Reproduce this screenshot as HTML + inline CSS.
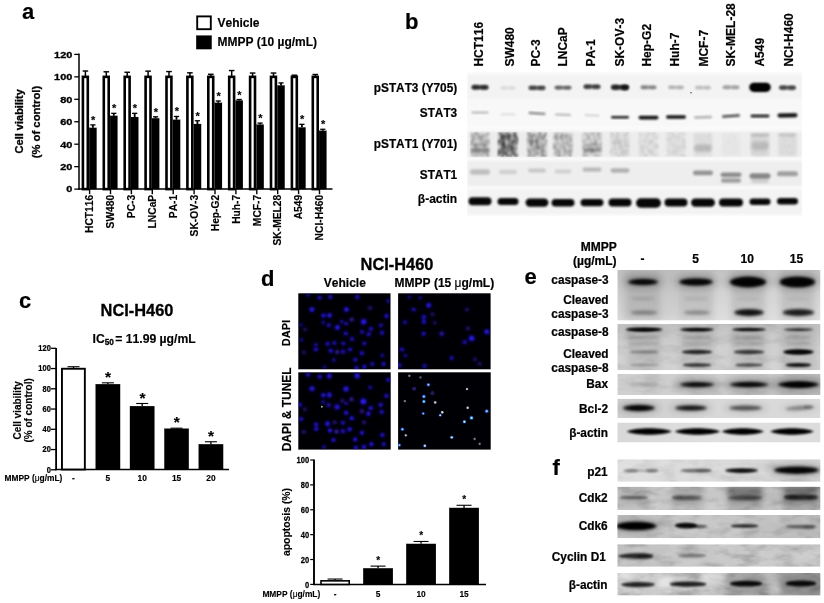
<!DOCTYPE html>
<html><head><meta charset="utf-8"><title>Figure</title>
<style>
html,body{margin:0;padding:0;background:#fff;}
svg{display:block;}
text{font-family:"Liberation Sans",sans-serif;font-weight:bold;fill:#000;font-kerning:none;}
</style></head><body>
<svg width="824" height="603" viewBox="0 0 824 603">
<defs>
<filter id="tb" x="-5%" y="-5%" width="110%" height="110%"><feGaussianBlur stdDeviation="0.35"/></filter>
<filter id="b05" x="-20%" y="-50%" width="140%" height="200%"><feGaussianBlur stdDeviation="0.5"/></filter>
<filter id="b08" x="-20%" y="-50%" width="140%" height="200%"><feGaussianBlur stdDeviation="0.8"/></filter>
<filter id="b1" x="-20%" y="-50%" width="140%" height="200%"><feGaussianBlur stdDeviation="1"/></filter>
<filter id="b13" x="-20%" y="-60%" width="140%" height="220%"><feGaussianBlur stdDeviation="1.3"/></filter>
<filter id="b15" x="-20%" y="-60%" width="140%" height="220%"><feGaussianBlur stdDeviation="1.5"/></filter>
<filter id="b2" x="-30%" y="-80%" width="160%" height="260%"><feGaussianBlur stdDeviation="2"/></filter>
<filter id="b3" x="-30%" y="-100%" width="160%" height="300%"><feGaussianBlur stdDeviation="3"/></filter>
<filter id="b4" x="-40%" y="-100%" width="180%" height="300%"><feGaussianBlur stdDeviation="4"/></filter>
<clipPath id="cb1"><rect x="467.5" y="70" width="334.5" height="148"/></clipPath>
<filter id="noise" x="0" y="0" width="100%" height="100%">
<feTurbulence type="fractalNoise" baseFrequency="0.36 0.2" numOctaves="2" seed="7" result="n"/>
<feColorMatrix in="n" type="matrix" values="0 0 0 0 0  0 0 0 0 0  0 0 0 0 0  2.4 0 0 0 -0.85" result="a"/>
<feComposite in="a" in2="SourceGraphic" operator="in"/>
<feGaussianBlur stdDeviation="0.85"/>
</filter>
<filter id="cb" x="-50%" y="-50%" width="200%" height="200%"><feGaussianBlur stdDeviation="0.9"/></filter>
<filter id="cb2" x="-50%" y="-50%" width="200%" height="200%"><feGaussianBlur stdDeviation="0.7"/></filter>
<clipPath id="ci1"><rect x="298.3" y="293.3" width="92.2" height="76"/></clipPath>
<clipPath id="ci2"><rect x="398.1" y="293.3" width="92.5" height="76"/></clipPath>
<clipPath id="ci3"><rect x="298.3" y="372.3" width="92.4" height="77.3"/></clipPath>
<clipPath id="ci4"><rect x="398.1" y="372.3" width="92.6" height="77.3"/></clipPath>
<filter id="mottD" x="0" y="0" width="100%" height="100%">
<feTurbulence type="fractalNoise" baseFrequency="0.05 0.11" numOctaves="3" seed="11"/>
<feColorMatrix type="matrix" values="0 0 0 0 0  0 0 0 0 0  0 0 0 0 0  2.2 0 0 0 -0.95"/>
<feComposite in2="SourceGraphic" operator="in"/></filter>
<filter id="mottL" x="0" y="0" width="100%" height="100%">
<feTurbulence type="fractalNoise" baseFrequency="0.06 0.1" numOctaves="3" seed="29"/>
<feColorMatrix type="matrix" values="0 0 0 0 1  0 0 0 0 1  0 0 0 0 1  2.2 0 0 0 -0.95"/>
<feComposite in2="SourceGraphic" operator="in"/></filter>
<linearGradient id="ge1" x1="0" y1="0" x2="0" y2="1"><stop offset="0" stop-color="#c2c2c2"/><stop offset="0.5" stop-color="#d4d4d4"/><stop offset="1" stop-color="#dedede"/></linearGradient>
<clipPath id="ce1"><rect x="617.3" y="270" width="203.20000000000005" height="50.5"/></clipPath>
<linearGradient id="ge2" x1="0" y1="0" x2="0" y2="1"><stop offset="0" stop-color="#c0c0c0"/><stop offset="0.5" stop-color="#cfcfcf"/><stop offset="1" stop-color="#d2d2d2"/></linearGradient>
<clipPath id="ce2"><rect x="617.3" y="324" width="203.20000000000005" height="46.3"/></clipPath>
<linearGradient id="ge3" x1="0" y1="0" x2="1" y2="0"><stop offset="0" stop-color="#d0d0d0"/><stop offset="0.5" stop-color="#cccccc"/><stop offset="1" stop-color="#c4c4c4"/></linearGradient>
<clipPath id="ce3"><rect x="617.3" y="374" width="203.20000000000005" height="21"/></clipPath>
<linearGradient id="ge4" x1="0" y1="0" x2="1" y2="0"><stop offset="0" stop-color="#cecece"/><stop offset="0.5" stop-color="#d8d8d8"/><stop offset="1" stop-color="#dadada"/></linearGradient>
<clipPath id="ce4"><rect x="617.3" y="398.7" width="203.20000000000005" height="19.3"/></clipPath>
<linearGradient id="ge5" x1="0" y1="0" x2="1" y2="0"><stop offset="0" stop-color="#d8d8d8"/><stop offset="0.5" stop-color="#e0e0e0"/><stop offset="1" stop-color="#dcdcdc"/></linearGradient>
<clipPath id="ce5"><rect x="617.3" y="422.5" width="203.20000000000005" height="20.1"/></clipPath>
<linearGradient id="gf1" x1="0" y1="0" x2="1" y2="0"><stop offset="0" stop-color="#e0e0e0"/><stop offset="0.5" stop-color="#dadada"/><stop offset="1" stop-color="#d2d2d2"/></linearGradient>
<clipPath id="cf1"><rect x="617.3" y="459.3" width="203.20000000000005" height="22.5"/></clipPath>
<linearGradient id="gf2" x1="0" y1="0" x2="1" y2="0"><stop offset="0" stop-color="#c8c8c8"/><stop offset="0.5" stop-color="#c4c4c4"/><stop offset="1" stop-color="#b4b4b4"/></linearGradient>
<clipPath id="cf2"><rect x="617.3" y="486.7" width="203.20000000000005" height="23.3"/></clipPath>
<linearGradient id="gf3" x1="0" y1="0" x2="1" y2="0"><stop offset="0" stop-color="#c2c2c2"/><stop offset="0.5" stop-color="#c8c8c8"/><stop offset="1" stop-color="#b8b8b8"/></linearGradient>
<clipPath id="cf3"><rect x="617.3" y="515" width="203.20000000000005" height="23.2"/></clipPath>
<linearGradient id="gf4" x1="0" y1="0" x2="1" y2="0"><stop offset="0" stop-color="#c0c0c0"/><stop offset="0.5" stop-color="#c8c8c8"/><stop offset="1" stop-color="#cccccc"/></linearGradient>
<clipPath id="cf4"><rect x="617.3" y="544.2" width="203.20000000000005" height="22.6"/></clipPath>
<linearGradient id="gf5" x1="0" y1="0" x2="1" y2="0"><stop offset="0" stop-color="#cdcdcd"/><stop offset="0.5" stop-color="#c2c2c2"/><stop offset="1" stop-color="#a4a4a4"/></linearGradient>
<clipPath id="cf5"><rect x="617.3" y="573" width="203.20000000000005" height="22.6"/></clipPath>
</defs>
<rect x="0" y="0" width="824" height="603" fill="#fff"/>
<g id="panel-a" filter="url(#tb)" stroke="#000" stroke-width="0.15">
<text x="22" y="19" font-size="22" text-anchor="start" >a</text>
<rect x="197.2" y="16.4" width="13.6" height="12.8" fill="#fff" stroke="#000" stroke-width="1.9"/>
<rect x="196.2" y="35.5" width="15.5" height="13.7" fill="#000"/>
<text x="217.5" y="27" font-size="12" text-anchor="start" >Vehicle</text>
<text x="217.5" y="46.3" font-size="12" text-anchor="start" >MMPP (10 µg/mL)</text>
<line x1="79" y1="53.6" x2="79" y2="189.75" stroke="#000" stroke-width="1.5" />
<line x1="78.25" y1="189" x2="332.5" y2="189" stroke="#000" stroke-width="1.5" />
<line x1="74.3" y1="189.1" x2="79" y2="189.1" stroke="#000" stroke-width="1.3" />
<text transform="translate(72.4,192.4) scale(1.22,1)" font-size="9" text-anchor="end" stroke="#000" stroke-width="0.3">0</text>
<line x1="74.3" y1="166.65" x2="79" y2="166.65" stroke="#000" stroke-width="1.3" />
<text transform="translate(72.4,169.95) scale(1.22,1)" font-size="9" text-anchor="end" stroke="#000" stroke-width="0.3">20</text>
<line x1="74.3" y1="144.2" x2="79" y2="144.2" stroke="#000" stroke-width="1.3" />
<text transform="translate(72.4,147.5) scale(1.22,1)" font-size="9" text-anchor="end" stroke="#000" stroke-width="0.3">40</text>
<line x1="74.3" y1="121.75" x2="79" y2="121.75" stroke="#000" stroke-width="1.3" />
<text transform="translate(72.4,125.05) scale(1.22,1)" font-size="9" text-anchor="end" stroke="#000" stroke-width="0.3">60</text>
<line x1="74.3" y1="99.3" x2="79" y2="99.3" stroke="#000" stroke-width="1.3" />
<text transform="translate(72.4,102.6) scale(1.22,1)" font-size="9" text-anchor="end" stroke="#000" stroke-width="0.3">80</text>
<line x1="74.3" y1="76.85" x2="79" y2="76.85" stroke="#000" stroke-width="1.3" />
<text transform="translate(72.4,80.15) scale(1.22,1)" font-size="9" text-anchor="end" stroke="#000" stroke-width="0.3">100</text>
<line x1="74.3" y1="54.4" x2="79" y2="54.4" stroke="#000" stroke-width="1.3" />
<text transform="translate(72.4,57.7) scale(1.22,1)" font-size="9" text-anchor="end" stroke="#000" stroke-width="0.3">120</text>
<rect x="82.9" y="76.85" width="4.9" height="112.25" fill="#fff" stroke="#000" stroke-width="2.6"/>
<line x1="85.4" y1="76.85" x2="85.4" y2="71.01" stroke="#000" stroke-width="1.5" />
<line x1="82.6" y1="71.01" x2="88.2" y2="71.01" stroke="#000" stroke-width="1.4" />
<rect x="89.2" y="127.81" width="7.4" height="61.29" fill="#000"/>
<line x1="92.9" y1="127.81" x2="92.9" y2="124.89" stroke="#000" stroke-width="1.8" />
<line x1="90.3" y1="124.89" x2="95.5" y2="124.89" stroke="#000" stroke-width="1.3" />
<text x="93.2" y="123.89" font-size="11" text-anchor="middle" >*</text>
<line x1="89.6" y1="189" x2="89.6" y2="194.2" stroke="#000" stroke-width="1.4" />
<text transform="translate(93.3,194.8) rotate(-90)" font-size="10.25" text-anchor="end" >HCT116</text>
<rect x="103.8" y="76.85" width="4.9" height="112.25" fill="#fff" stroke="#000" stroke-width="2.6"/>
<line x1="106.3" y1="76.85" x2="106.3" y2="71.8" stroke="#000" stroke-width="1.5" />
<line x1="103.5" y1="71.8" x2="109.1" y2="71.8" stroke="#000" stroke-width="1.4" />
<rect x="110.1" y="115.8" width="7.4" height="73.3" fill="#000"/>
<line x1="113.8" y1="115.8" x2="113.8" y2="113.33" stroke="#000" stroke-width="1.8" />
<line x1="111.2" y1="113.33" x2="116.4" y2="113.33" stroke="#000" stroke-width="1.3" />
<text x="114.1" y="112.33" font-size="11" text-anchor="middle" >*</text>
<line x1="110.5" y1="189" x2="110.5" y2="194.2" stroke="#000" stroke-width="1.4" />
<text transform="translate(114.2,194.8) rotate(-90)" font-size="10.25" text-anchor="end" >SW480</text>
<rect x="124.7" y="76.85" width="4.9" height="112.25" fill="#fff" stroke="#000" stroke-width="2.6"/>
<line x1="127.2" y1="76.85" x2="127.2" y2="72.25" stroke="#000" stroke-width="1.5" />
<line x1="124.4" y1="72.25" x2="130.0" y2="72.25" stroke="#000" stroke-width="1.4" />
<rect x="131.0" y="117.04" width="7.4" height="72.06" fill="#000"/>
<line x1="134.7" y1="117.04" x2="134.7" y2="113.33" stroke="#000" stroke-width="1.8" />
<line x1="132.1" y1="113.33" x2="137.3" y2="113.33" stroke="#000" stroke-width="1.3" />
<text x="135.0" y="112.33" font-size="11" text-anchor="middle" >*</text>
<line x1="131.4" y1="189" x2="131.4" y2="194.2" stroke="#000" stroke-width="1.4" />
<text transform="translate(135.1,194.8) rotate(-90)" font-size="10.25" text-anchor="end" >PC-3</text>
<rect x="145.6" y="76.85" width="4.9" height="112.25" fill="#fff" stroke="#000" stroke-width="2.6"/>
<line x1="148.1" y1="76.85" x2="148.1" y2="71.13" stroke="#000" stroke-width="1.5" />
<line x1="145.3" y1="71.13" x2="150.9" y2="71.13" stroke="#000" stroke-width="1.4" />
<rect x="151.9" y="118.27" width="7.4" height="70.83" fill="#000"/>
<line x1="155.6" y1="118.27" x2="155.6" y2="116.81" stroke="#000" stroke-width="1.8" />
<line x1="153.0" y1="116.81" x2="158.2" y2="116.81" stroke="#000" stroke-width="1.3" />
<text x="155.9" y="115.81" font-size="11" text-anchor="middle" >*</text>
<line x1="152.3" y1="189" x2="152.3" y2="194.2" stroke="#000" stroke-width="1.4" />
<text transform="translate(156.0,194.8) rotate(-90)" font-size="10.25" text-anchor="end" >LNCaP</text>
<rect x="166.5" y="76.85" width="4.9" height="112.25" fill="#fff" stroke="#000" stroke-width="2.6"/>
<line x1="169.0" y1="76.85" x2="169.0" y2="71.57" stroke="#000" stroke-width="1.5" />
<line x1="166.2" y1="71.57" x2="171.8" y2="71.57" stroke="#000" stroke-width="1.4" />
<rect x="172.8" y="119.73" width="7.4" height="69.37" fill="#000"/>
<line x1="176.5" y1="119.73" x2="176.5" y2="116.47" stroke="#000" stroke-width="1.8" />
<line x1="173.9" y1="116.47" x2="179.1" y2="116.47" stroke="#000" stroke-width="1.3" />
<text x="176.8" y="115.47" font-size="11" text-anchor="middle" >*</text>
<line x1="173.2" y1="189" x2="173.2" y2="194.2" stroke="#000" stroke-width="1.4" />
<text transform="translate(176.9,194.8) rotate(-90)" font-size="10.25" text-anchor="end" >PA-1</text>
<rect x="187.4" y="76.85" width="4.9" height="112.25" fill="#fff" stroke="#000" stroke-width="2.6"/>
<line x1="189.9" y1="76.85" x2="189.9" y2="72.81" stroke="#000" stroke-width="1.5" />
<line x1="187.1" y1="72.81" x2="192.7" y2="72.81" stroke="#000" stroke-width="1.4" />
<rect x="193.7" y="123.99" width="7.4" height="65.11" fill="#000"/>
<line x1="197.4" y1="123.99" x2="197.4" y2="120.74" stroke="#000" stroke-width="1.8" />
<line x1="194.8" y1="120.74" x2="200.0" y2="120.74" stroke="#000" stroke-width="1.3" />
<text x="197.7" y="119.74" font-size="11" text-anchor="middle" >*</text>
<line x1="194.1" y1="189" x2="194.1" y2="194.2" stroke="#000" stroke-width="1.4" />
<text transform="translate(197.8,194.8) rotate(-90)" font-size="10.25" text-anchor="end" >SK-OV-3</text>
<rect x="208.3" y="76.85" width="4.9" height="112.25" fill="#fff" stroke="#000" stroke-width="2.6"/>
<line x1="210.8" y1="76.85" x2="210.8" y2="74.27" stroke="#000" stroke-width="1.5" />
<line x1="208.0" y1="74.27" x2="213.6" y2="74.27" stroke="#000" stroke-width="1.4" />
<rect x="214.6" y="102.78" width="7.4" height="86.32" fill="#000"/>
<line x1="218.3" y1="102.78" x2="218.3" y2="100.98" stroke="#000" stroke-width="1.8" />
<line x1="215.7" y1="100.98" x2="220.9" y2="100.98" stroke="#000" stroke-width="1.3" />
<text x="218.6" y="99.98" font-size="11" text-anchor="middle" >*</text>
<line x1="215.0" y1="189" x2="215.0" y2="194.2" stroke="#000" stroke-width="1.4" />
<text transform="translate(218.7,194.8) rotate(-90)" font-size="10.25" text-anchor="end" >Hep-G2</text>
<rect x="229.2" y="76.85" width="4.9" height="112.25" fill="#fff" stroke="#000" stroke-width="2.6"/>
<line x1="231.7" y1="76.85" x2="231.7" y2="70.56" stroke="#000" stroke-width="1.5" />
<line x1="228.9" y1="70.56" x2="234.5" y2="70.56" stroke="#000" stroke-width="1.4" />
<rect x="235.5" y="100.42" width="7.4" height="88.68" fill="#000"/>
<line x1="239.2" y1="100.42" x2="239.2" y2="99.52" stroke="#000" stroke-width="1.8" />
<line x1="236.6" y1="99.52" x2="241.8" y2="99.52" stroke="#000" stroke-width="1.3" />
<text x="239.5" y="98.52" font-size="11" text-anchor="middle" >*</text>
<line x1="235.9" y1="189" x2="235.9" y2="194.2" stroke="#000" stroke-width="1.4" />
<text transform="translate(239.6,194.8) rotate(-90)" font-size="10.25" text-anchor="end" >Huh-7</text>
<rect x="250.1" y="76.85" width="4.9" height="112.25" fill="#fff" stroke="#000" stroke-width="2.6"/>
<line x1="252.6" y1="76.85" x2="252.6" y2="73.03" stroke="#000" stroke-width="1.5" />
<line x1="249.8" y1="73.03" x2="255.4" y2="73.03" stroke="#000" stroke-width="1.4" />
<rect x="256.4" y="124.56" width="7.4" height="64.54" fill="#000"/>
<line x1="260.1" y1="124.56" x2="260.1" y2="123.1" stroke="#000" stroke-width="1.8" />
<line x1="257.5" y1="123.1" x2="262.7" y2="123.1" stroke="#000" stroke-width="1.3" />
<text x="260.4" y="122.1" font-size="11" text-anchor="middle" >*</text>
<line x1="256.8" y1="189" x2="256.8" y2="194.2" stroke="#000" stroke-width="1.4" />
<text transform="translate(260.5,194.8) rotate(-90)" font-size="10.25" text-anchor="end" >MCF-7</text>
<rect x="271.0" y="76.85" width="4.9" height="112.25" fill="#fff" stroke="#000" stroke-width="2.6"/>
<line x1="273.5" y1="76.85" x2="273.5" y2="73.03" stroke="#000" stroke-width="1.5" />
<line x1="270.7" y1="73.03" x2="276.3" y2="73.03" stroke="#000" stroke-width="1.4" />
<rect x="277.3" y="85.38" width="7.4" height="103.72" fill="#000"/>
<line x1="281.0" y1="85.38" x2="281.0" y2="82.91" stroke="#000" stroke-width="1.8" />
<line x1="278.4" y1="82.91" x2="283.6" y2="82.91" stroke="#000" stroke-width="1.3" />
<line x1="277.7" y1="189" x2="277.7" y2="194.2" stroke="#000" stroke-width="1.4" />
<text transform="translate(281.4,194.8) rotate(-90)" font-size="10.25" text-anchor="end" >SK-MEL28</text>
<rect x="291.9" y="76.85" width="4.9" height="112.25" fill="#fff" stroke="#000" stroke-width="2.6"/>
<line x1="294.4" y1="76.85" x2="294.4" y2="75.17" stroke="#000" stroke-width="1.5" />
<line x1="291.6" y1="75.17" x2="297.2" y2="75.17" stroke="#000" stroke-width="1.4" />
<rect x="298.2" y="127.36" width="7.4" height="61.74" fill="#000"/>
<line x1="301.9" y1="127.36" x2="301.9" y2="124.33" stroke="#000" stroke-width="1.8" />
<line x1="299.3" y1="124.33" x2="304.5" y2="124.33" stroke="#000" stroke-width="1.3" />
<text x="302.2" y="123.33" font-size="11" text-anchor="middle" >*</text>
<line x1="298.6" y1="189" x2="298.6" y2="194.2" stroke="#000" stroke-width="1.4" />
<text transform="translate(302.3,194.8) rotate(-90)" font-size="10.25" text-anchor="end" >A549</text>
<rect x="312.8" y="76.85" width="4.9" height="112.25" fill="#fff" stroke="#000" stroke-width="2.6"/>
<line x1="315.3" y1="76.85" x2="315.3" y2="74.49" stroke="#000" stroke-width="1.5" />
<line x1="312.5" y1="74.49" x2="318.1" y2="74.49" stroke="#000" stroke-width="1.4" />
<rect x="319.1" y="130.73" width="7.4" height="58.37" fill="#000"/>
<line x1="322.8" y1="130.73" x2="322.8" y2="129.27" stroke="#000" stroke-width="1.8" />
<line x1="320.2" y1="129.27" x2="325.4" y2="129.27" stroke="#000" stroke-width="1.3" />
<text x="323.1" y="128.27" font-size="11" text-anchor="middle" >*</text>
<line x1="319.5" y1="189" x2="319.5" y2="194.2" stroke="#000" stroke-width="1.4" />
<text transform="translate(323.2,194.8) rotate(-90)" font-size="10.25" text-anchor="end" >NCI-H460</text>
<text transform="translate(23.3,121.3) rotate(-90)" font-size="11.0" text-anchor="middle" stroke-width="0.3">Cell viability</text>
<text transform="translate(40,122) rotate(-90)" font-size="11.25" text-anchor="middle" stroke-width="0.3">(% of control)</text>
</g>
<g id="panel-b-text" filter="url(#tb)" stroke="#000" stroke-width="0.2">
<text x="405" y="29" font-size="22" text-anchor="start" >b</text>
<text transform="translate(483.3,66.6) rotate(-90)" font-size="12" text-anchor="start" >HCT116</text>
<text transform="translate(514.05,66.6) rotate(-90)" font-size="12" text-anchor="start" >SW480</text>
<text transform="translate(539.7,66.6) rotate(-90)" font-size="12" text-anchor="start" >PC-3</text>
<text transform="translate(566.8,66.6) rotate(-90)" font-size="12" text-anchor="start" >LNCaP</text>
<text transform="translate(594.7,66.6) rotate(-90)" font-size="12" text-anchor="start" >PA-1</text>
<text transform="translate(623.8,66.6) rotate(-90)" font-size="12" text-anchor="start" >SK-OV-3</text>
<text transform="translate(651.3,66.6) rotate(-90)" font-size="12" text-anchor="start" >Hep-G2</text>
<text transform="translate(679.3,66.6) rotate(-90)" font-size="12" text-anchor="start" >Huh-7</text>
<text transform="translate(708.3,66.6) rotate(-90)" font-size="12" text-anchor="start" >MCF-7</text>
<text transform="translate(735.3,66.6) rotate(-90)" font-size="12" text-anchor="start" >SK-MEL-28</text>
<text transform="translate(763.9,66.6) rotate(-90)" font-size="12" text-anchor="start" >A549</text>
<text transform="translate(792.9,66.6) rotate(-90)" font-size="12" text-anchor="start" >NCI-H460</text>
<text transform="translate(457.2,92.3) scale(0.985,1)" font-size="12" text-anchor="end" >pSTAT3 (Y705)</text>
<text transform="translate(457.2,116.80000000000001) scale(0.985,1)" font-size="12" text-anchor="end" >STAT3</text>
<text transform="translate(457.2,148.2) scale(0.985,1)" font-size="12" text-anchor="end" >pSTAT1 (Y701)</text>
<text transform="translate(457.2,178.6) scale(0.985,1)" font-size="12" text-anchor="end" >STAT1</text>
<text transform="translate(457.2,203.2) scale(1.0,1)" font-size="12" text-anchor="end" >β-actin</text>
</g>
<g id="panel-b-blot" clip-path="url(#cb1)">
<rect x="467.5" y="72" width="334.5" height="144" fill="#fafafa"/>
<rect x="467.5" y="75" width="334.5" height="24.5" fill="#f3f3f3" filter="url(#b08)"/>
<rect x="471.5" y="85.3" width="17" height="4.0" rx="2.0" fill="#000" opacity="0.7215999999999999" filter="url(#b1)"/>
<rect x="471.93" y="84.8" width="7.65" height="5" rx="2.5" fill="#000" opacity="0.44" filter="url(#b1)"/>
<rect x="480.43" y="85.0" width="7.65" height="5" rx="2.5" fill="#000" opacity="0.44" filter="url(#b1)"/>
<rect x="500.0" y="86.2" width="16" height="3.2" rx="1.6" fill="#000" opacity="0.0574" filter="url(#b1)"/>
<rect x="500.4" y="85.8" width="7.2" height="4" rx="2.0" fill="#000" opacity="0.035" filter="url(#b1)"/>
<rect x="508.4" y="86.0" width="7.2" height="4" rx="2.0" fill="#000" opacity="0.035" filter="url(#b1)"/>
<rect x="528.5" y="85.96" width="17" height="3.68" rx="1.84" fill="#000" opacity="0.5903999999999999" filter="url(#b1)"/>
<rect x="528.92" y="85.5" width="7.65" height="4.6" rx="2.3" fill="#000" opacity="0.36" filter="url(#b1)"/>
<rect x="537.42" y="85.7" width="7.65" height="4.6" rx="2.3" fill="#000" opacity="0.36" filter="url(#b1)"/>
<rect x="554.5" y="85.92" width="17" height="3.36" rx="1.68" fill="#000" opacity="0.451" filter="url(#b1)"/>
<rect x="554.92" y="85.5" width="7.65" height="4.2" rx="2.1" fill="#000" opacity="0.275" filter="url(#b1)"/>
<rect x="563.42" y="85.7" width="7.65" height="4.2" rx="2.1" fill="#000" opacity="0.275" filter="url(#b1)"/>
<rect x="583.5" y="84.78" width="17" height="3.84" rx="1.92" fill="#000" opacity="0.6396" filter="url(#b1)"/>
<rect x="583.92" y="84.3" width="7.65" height="4.8" rx="2.4" fill="#000" opacity="0.39" filter="url(#b1)"/>
<rect x="592.42" y="84.5" width="7.65" height="4.8" rx="2.4" fill="#000" opacity="0.39" filter="url(#b1)"/>
<rect x="611.0" y="85.06" width="18" height="4.48" rx="2.24" fill="#000" opacity="0.7544" filter="url(#b1)"/>
<rect x="611.45" y="84.5" width="8.1" height="5.6" rx="2.8" fill="#000" opacity="0.46" filter="url(#b1)"/>
<rect x="620.45" y="84.7" width="8.1" height="5.6" rx="2.8" fill="#000" opacity="0.46" filter="url(#b1)"/>
<rect x="640.5" y="85.62" width="16" height="3.36" rx="1.68" fill="#000" opacity="0.328" filter="url(#b1)"/>
<rect x="640.9" y="85.2" width="7.2" height="4.2" rx="2.1" fill="#000" opacity="0.2" filter="url(#b1)"/>
<rect x="648.9" y="85.4" width="7.2" height="4.2" rx="2.1" fill="#000" opacity="0.2" filter="url(#b1)"/>
<rect x="668.0" y="85.7" width="16" height="3.2" rx="1.6" fill="#000" opacity="0.18039999999999998" filter="url(#b1)"/>
<rect x="668.4" y="85.3" width="7.2" height="4" rx="2.0" fill="#000" opacity="0.11" filter="url(#b1)"/>
<rect x="676.4" y="85.5" width="7.2" height="4" rx="2.0" fill="#000" opacity="0.11" filter="url(#b1)"/>
<rect x="695.0" y="86.0" width="16" height="3.2" rx="1.6" fill="#000" opacity="0.14759999999999998" filter="url(#b1)"/>
<rect x="695.4" y="85.6" width="7.2" height="4" rx="2.0" fill="#000" opacity="0.09" filter="url(#b1)"/>
<rect x="703.4" y="85.8" width="7.2" height="4" rx="2.0" fill="#000" opacity="0.09" filter="url(#b1)"/>
<rect x="722.5" y="85.62" width="17" height="3.36" rx="1.68" fill="#000" opacity="0.2296" filter="url(#b1)"/>
<rect x="722.92" y="85.2" width="7.65" height="4.2" rx="2.1" fill="#000" opacity="0.14" filter="url(#b1)"/>
<rect x="731.42" y="85.4" width="7.65" height="4.2" rx="2.1" fill="#000" opacity="0.14" filter="url(#b1)"/>
<rect x="749.25" y="82.65" width="21.5" height="9.3" rx="4.65" fill="#000" opacity="1" filter="url(#b13)"/>
<rect x="779.0" y="85.68" width="17" height="3.84" rx="1.92" fill="#000" opacity="0.5903999999999999" filter="url(#b1)"/>
<rect x="779.42" y="85.2" width="7.65" height="4.8" rx="2.4" fill="#000" opacity="0.36" filter="url(#b1)"/>
<rect x="787.92" y="85.4" width="7.65" height="4.8" rx="2.4" fill="#000" opacity="0.36" filter="url(#b1)"/>
<rect x="751.5" y="84.55" width="17" height="5.5" rx="2.75" fill="#000" opacity="0.9" filter="url(#b08)"/>
<rect x="621.5" y="84.75" width="7" height="5.5" rx="2.75" fill="#000" opacity="0.5" filter="url(#b08)"/>
<circle cx="691" cy="92.8" r="0.75" fill="#444" filter="url(#b05)"/>
<rect x="467.5" y="100.5" width="334.5" height="25.5" fill="#f8f8f8"/>
<rect x="471.5" y="111.6" width="17" height="2.0" rx="1.0" fill="#000" opacity="0.276" filter="url(#b08)"/>
<rect x="500.5" y="113.4" width="15" height="1.8" rx="0.9" fill="#000" opacity="0.11960000000000001" filter="url(#b08)"/>
<rect x="528.5" y="112.3" width="17" height="2.2" rx="1.1" fill="#000" opacity="0.47840000000000005" filter="url(#b08)" transform="rotate(4 537 113.4)"/>
<rect x="555.0" y="113.8" width="16" height="2.0" rx="1.0" fill="#000" opacity="0.276" filter="url(#b08)" transform="rotate(2 563 114.8)"/>
<rect x="584.5" y="114.4" width="15" height="1.8" rx="0.9" fill="#000" opacity="0.1656" filter="url(#b08)" transform="rotate(2 592 115.3)"/>
<rect x="611.0" y="115.9" width="18" height="2.6" rx="1.3" fill="#000" opacity="0.874" filter="url(#b08)"/>
<rect x="638.5" y="115.8" width="20" height="3.6" rx="1.8" fill="#000" opacity="0.92" filter="url(#b08)"/>
<rect x="666.0" y="115.2" width="20" height="3.6" rx="1.8" fill="#000" opacity="0.92" filter="url(#b08)"/>
<rect x="694.0" y="115.9" width="18" height="2.6" rx="1.3" fill="#000" opacity="0.2944" filter="url(#b08)" transform="rotate(-2 703 117.2)"/>
<rect x="722.0" y="114.7" width="18" height="2.6" rx="1.3" fill="#000" opacity="0.7176" filter="url(#b08)" transform="rotate(-4 731 116)"/>
<rect x="750.5" y="114.6" width="19" height="2.8" rx="1.4" fill="#000" opacity="0.8464" filter="url(#b08)"/>
<rect x="777.5" y="113.2" width="20" height="4.2" rx="2.1" fill="#000" opacity="0.92" filter="url(#b08)" transform="rotate(-1 787.5 115.3)"/>
<rect x="467.5" y="131.5" width="334.5" height="25.5" fill="#ededed" filter="url(#b08)"/>
<g filter="url(#noise)">
<rect x="470" y="132" width="20" height="25" fill="#000" opacity="0.32"/>
<rect x="498" y="132" width="20" height="25" fill="#000" opacity="0.75"/>
<rect x="527" y="132" width="20" height="25" fill="#000" opacity="0.44"/>
<rect x="553" y="132" width="20" height="25" fill="#000" opacity="0.34"/>
<rect x="582" y="132" width="20" height="25" fill="#000" opacity="0.28"/>
<rect x="610" y="132" width="20" height="25" fill="#000" opacity="0.17"/>
<rect x="638.5" y="132" width="20" height="25" fill="#000" opacity="0.12"/>
<rect x="666" y="132" width="20" height="25" fill="#000" opacity="0.12"/>
<rect x="693" y="132" width="20" height="25" fill="#000" opacity="0.04"/>
<rect x="721" y="132" width="20" height="25" fill="#000" opacity="0.02"/>
<rect x="750" y="132" width="20" height="25" fill="#000" opacity="0.05"/>
<rect x="777.5" y="132" width="20" height="25" fill="#000" opacity="0.04"/>
</g>
<rect x="471" y="133" width="18" height="23" fill="#000" opacity="0.12" filter="url(#b15)"/>
<rect x="499" y="133" width="18" height="23" fill="#000" opacity="0.26" filter="url(#b15)"/>
<rect x="528" y="133" width="18" height="23" fill="#000" opacity="0.16" filter="url(#b15)"/>
<rect x="554" y="133" width="18" height="23" fill="#000" opacity="0.1" filter="url(#b15)"/>
<rect x="583" y="133" width="18" height="23" fill="#000" opacity="0.08" filter="url(#b15)"/>
<rect x="611" y="133" width="18" height="23" fill="#000" opacity="0.05" filter="url(#b15)"/>
<rect x="639.5" y="133" width="18" height="23" fill="#000" opacity="0.03" filter="url(#b15)"/>
<rect x="667" y="133" width="18" height="23" fill="#000" opacity="0.03" filter="url(#b15)"/>
<rect x="694" y="133" width="18" height="23" fill="#000" opacity="0.05" filter="url(#b15)"/>
<rect x="722" y="133" width="18" height="23" fill="#000" opacity="0.02" filter="url(#b15)"/>
<rect x="751" y="133" width="18" height="23" fill="#000" opacity="0.08" filter="url(#b15)"/>
<rect x="778.5" y="133" width="18" height="23" fill="#000" opacity="0.06" filter="url(#b15)"/>
<rect x="471.0" y="148.0" width="18" height="4" rx="2.0" fill="#000" opacity="0.25" filter="url(#b1)"/>
<rect x="472.0" y="143.5" width="16" height="3" rx="1.5" fill="#000" opacity="0.15" filter="url(#b1)"/>
<rect x="583.5" y="148.0" width="17" height="4" rx="2.0" fill="#000" opacity="0.28" filter="url(#b1)"/>
<rect x="584.5" y="143.5" width="15" height="3" rx="1.5" fill="#000" opacity="0.15" filter="url(#b1)"/>
<rect x="694.0" y="144.5" width="18" height="7" rx="3.5" fill="#000" opacity="0.16" filter="url(#b15)"/>
<rect x="751.0" y="142.0" width="18" height="8" rx="4.0" fill="#000" opacity="0.12" filter="url(#b15)"/>
<rect x="751.0" y="133.5" width="18" height="3" rx="1.5" fill="#000" opacity="0.12" filter="url(#b1)"/>
<rect x="778.5" y="133.5" width="18" height="3" rx="1.5" fill="#000" opacity="0.1" filter="url(#b1)"/>
<rect x="501.0" y="133.0" width="4" height="22" rx="11.0" fill="#000" opacity="0.35" filter="url(#b1)"/>
<rect x="467.5" y="161" width="334.5" height="25" fill="#eeeeee" filter="url(#b08)"/>
<rect x="470.0" y="169.2" width="20" height="5.6" rx="2.8" fill="#000" opacity="0.198" filter="url(#b13)"/>
<rect x="499.0" y="169.7" width="18" height="4.6" rx="2.3" fill="#000" opacity="0.117" filter="url(#b13)"/>
<rect x="528.0" y="168.45" width="18" height="4.1" rx="2.05" fill="#000" opacity="0.162" filter="url(#b13)"/>
<rect x="554.5" y="169.45" width="17" height="4.1" rx="2.05" fill="#000" opacity="0.117" filter="url(#b13)"/>
<rect x="582.5" y="167.55" width="19" height="4.1" rx="2.05" fill="#000" opacity="0.216" filter="url(#b13)"/>
<rect x="610.5" y="168.2" width="19" height="4.6" rx="2.3" fill="#000" opacity="0.25200000000000006" filter="url(#b13)"/>
<rect x="693.0" y="170.6" width="20" height="4.6" rx="2.3" fill="#000" opacity="0.378" filter="url(#b13)"/>
<rect x="720.5" y="172.5" width="21" height="4.6" rx="2.3" fill="#000" opacity="0.405" filter="url(#b13)"/>
<rect x="749.5" y="173.2" width="21" height="5.6" rx="2.8" fill="#000" opacity="0.432" filter="url(#b13)"/>
<rect x="777.0" y="171.15" width="21" height="5.1" rx="2.55" fill="#000" opacity="0.324" filter="url(#b13)"/>
<rect x="721.0" y="178.35" width="20" height="4.5" rx="2.25" fill="#000" opacity="0.33" filter="url(#b1)"/>
<rect x="751.0" y="179.0" width="18" height="4" rx="2.0" fill="#000" opacity="0.15" filter="url(#b15)"/>
<rect x="467.5" y="189.5" width="334.5" height="24.5" fill="#f3f3f3" filter="url(#b08)"/>
<rect x="468.5" y="197.2" width="23" height="8" rx="4.0" fill="#000" opacity="0.97" filter="url(#b1)"/>
<rect x="497.5" y="198.1" width="21" height="7" rx="3.5" fill="#000" opacity="0.97" filter="url(#b1)"/>
<rect x="525.5" y="198.4" width="23" height="8.4" rx="4.2" fill="#000" opacity="0.97" filter="url(#b1)"/>
<rect x="551.5" y="199.0" width="23" height="7.6" rx="3.8" fill="#000" opacity="0.97" filter="url(#b1)"/>
<rect x="580.5" y="198.9" width="23" height="7.4" rx="3.7" fill="#000" opacity="0.97" filter="url(#b1)"/>
<rect x="608.5" y="198.4" width="23" height="8" rx="4.0" fill="#000" opacity="0.97" filter="url(#b1)"/>
<rect x="636.0" y="198.3" width="25" height="9.4" rx="4.7" fill="#000" opacity="0.97" filter="url(#b1)"/>
<rect x="664.5" y="198.6" width="23" height="8" rx="4.0" fill="#000" opacity="0.97" filter="url(#b1)"/>
<rect x="691.0" y="198.4" width="24" height="8.4" rx="4.2" fill="#000" opacity="0.97" filter="url(#b1)"/>
<rect x="719.0" y="198.4" width="24" height="8" rx="4.0" fill="#000" opacity="0.97" filter="url(#b1)"/>
<rect x="749.5" y="198.5" width="21" height="6.6" rx="3.3" fill="#000" opacity="0.97" filter="url(#b1)"/>
<rect x="777.0" y="197.9" width="21" height="6.6" rx="3.3" fill="#000" opacity="0.97" filter="url(#b1)"/>
</g>
<g id="panel-c" filter="url(#tb)" stroke="#000" stroke-width="0.15">
<text x="19" y="308" font-size="22" text-anchor="start" >c</text>
<text x="137" y="315.8" font-size="16.4" text-anchor="middle" stroke-width="0.3">NCI-H460</text>
<text x="92.5" y="342.5" font-size="12.2" text-anchor="start" >IC<tspan font-size="8.2" dy="2.2" stroke-width="0.3">50</tspan><tspan dy="-2.2" dx="1.4">= 11.99 µg/mL</tspan></text>
<line x1="56.1" y1="347.9" x2="56.1" y2="470.2" stroke="#000" stroke-width="1.8" />
<line x1="55.2" y1="469.5" x2="229" y2="469.5" stroke="#000" stroke-width="1.5" />
<line x1="51" y1="469.8" x2="56.1" y2="469.8" stroke="#000" stroke-width="1.3" />
<text transform="translate(50.8,472.7) scale(0.9,1)" font-size="8.3" text-anchor="end" stroke="#000" stroke-width="0.25">0</text>
<line x1="51" y1="449.55" x2="56.1" y2="449.55" stroke="#000" stroke-width="1.3" />
<text transform="translate(50.8,452.45) scale(0.9,1)" font-size="8.3" text-anchor="end" stroke="#000" stroke-width="0.25">20</text>
<line x1="51" y1="429.3" x2="56.1" y2="429.3" stroke="#000" stroke-width="1.3" />
<text transform="translate(50.8,432.2) scale(0.9,1)" font-size="8.3" text-anchor="end" stroke="#000" stroke-width="0.25">40</text>
<line x1="51" y1="409.05" x2="56.1" y2="409.05" stroke="#000" stroke-width="1.3" />
<text transform="translate(50.8,411.95) scale(0.9,1)" font-size="8.3" text-anchor="end" stroke="#000" stroke-width="0.25">60</text>
<line x1="51" y1="388.8" x2="56.1" y2="388.8" stroke="#000" stroke-width="1.3" />
<text transform="translate(50.8,391.7) scale(0.9,1)" font-size="8.3" text-anchor="end" stroke="#000" stroke-width="0.25">80</text>
<line x1="51" y1="368.55" x2="56.1" y2="368.55" stroke="#000" stroke-width="1.3" />
<text transform="translate(50.8,371.45) scale(0.9,1)" font-size="8.3" text-anchor="end" stroke="#000" stroke-width="0.25">100</text>
<line x1="51" y1="348.3" x2="56.1" y2="348.3" stroke="#000" stroke-width="1.3" />
<text transform="translate(50.8,351.2) scale(0.9,1)" font-size="8.3" text-anchor="end" stroke="#000" stroke-width="0.25">120</text>
<rect x="61.95" y="368.75" width="22.9" height="100.75" fill="#fff" stroke="#000" stroke-width="1.9"/>
<line x1="73.5" y1="368.25" x2="73.5" y2="366.73" stroke="#000" stroke-width="1.3" />
<line x1="67.5" y1="366.73" x2="79.5" y2="366.73" stroke="#000" stroke-width="1.1" />
<text x="73.5" y="481.3" font-size="8.4" text-anchor="middle" >-</text>
<rect x="95.6" y="384.15" width="24.5" height="85.35" fill="#000"/>
<line x1="107.85" y1="384.15" x2="107.85" y2="382.83" stroke="#000" stroke-width="1.3" />
<line x1="101.85" y1="382.83" x2="113.85" y2="382.83" stroke="#000" stroke-width="1.1" />
<text x="108.05" y="382.03" font-size="15.5" text-anchor="middle" >*</text>
<text x="107.85" y="481.3" font-size="8.4" text-anchor="middle" >5</text>
<rect x="129.95" y="406.12" width="24.5" height="63.38" fill="#000"/>
<line x1="142.2" y1="406.12" x2="142.2" y2="403.49" stroke="#000" stroke-width="1.3" />
<line x1="136.2" y1="403.49" x2="148.2" y2="403.49" stroke="#000" stroke-width="1.1" />
<text x="142.4" y="402.69" font-size="15.5" text-anchor="middle" >*</text>
<text x="142.2" y="481.3" font-size="8.4" text-anchor="middle" >10</text>
<rect x="164.3" y="428.6" width="24.5" height="40.9" fill="#000"/>
<line x1="176.55" y1="428.6" x2="176.55" y2="428.19" stroke="#000" stroke-width="1.3" />
<line x1="170.55" y1="428.19" x2="182.55" y2="428.19" stroke="#000" stroke-width="1.1" />
<text x="176.75" y="427.39" font-size="15.5" text-anchor="middle" >*</text>
<text x="176.55" y="481.3" font-size="8.4" text-anchor="middle" >15</text>
<rect x="198.65" y="444.19" width="24.5" height="25.31" fill="#000"/>
<line x1="210.9" y1="444.19" x2="210.9" y2="441.76" stroke="#000" stroke-width="1.3" />
<line x1="204.9" y1="441.76" x2="216.9" y2="441.76" stroke="#000" stroke-width="1.1" />
<text x="211.1" y="440.96" font-size="15.5" text-anchor="middle" >*</text>
<text x="210.9" y="481.3" font-size="8.4" text-anchor="middle" >20</text>
<text x="4.5" y="481.3" font-size="8.4" text-anchor="start" >MMPP (<tspan font-weight="normal">μ</tspan>g/mL)</text>
<text transform="translate(21.2,410.4) rotate(-90)" font-size="10" text-anchor="middle" >Cell viability</text>
<text transform="translate(31.8,410.4) rotate(-90)" font-size="10" text-anchor="middle" >(% of control)</text>
</g>
<g id="panel-d-text" filter="url(#tb)" stroke="#000" stroke-width="0.18">
<text x="261" y="286.3" font-size="22" text-anchor="start" >d</text>
<text x="397" y="269.8" font-size="16.4" text-anchor="middle" stroke-width="0.3">NCI-H460</text>
<text x="323.8" y="286.8" font-size="12" text-anchor="start" >Vehicle</text>
<text x="394.6" y="286.8" font-size="12" text-anchor="start" >MMPP (15 <tspan font-weight="normal">μ</tspan>g/mL)</text>
<text transform="translate(289.6,333) rotate(-90)" font-size="11" text-anchor="middle" >DAPI</text>
<text transform="translate(290.6,409.3) rotate(-90)" font-size="12" text-anchor="middle" >DAPI &amp; TUNEL</text>
</g>
<rect x="298.3" y="293.3" width="92.2" height="76" fill="#000004"/>
<g clip-path="url(#ci1)"><g filter="url(#cb)"><circle cx="307.94" cy="294.98" r="3.23" fill="#1c10a8" opacity="0.15"/>
<circle cx="307.94" cy="294.98" r="1.7" fill="#2418e8" opacity="0.5"/>
<circle cx="319.62" cy="297.63" r="3.23" fill="#1c10a8" opacity="0.27"/>
<circle cx="319.62" cy="297.63" r="1.7" fill="#2418e8" opacity="0.9"/>
<circle cx="330.24" cy="296.97" r="3.23" fill="#1c10a8" opacity="0.28"/>
<circle cx="330.24" cy="296.97" r="1.7" fill="#2418e8" opacity="0.95"/>
<circle cx="357.31" cy="296.97" r="3.23" fill="#1c10a8" opacity="0.27"/>
<circle cx="357.31" cy="296.97" r="1.7" fill="#2418e8" opacity="0.9"/>
<circle cx="388.22" cy="300.95" r="3.23" fill="#1c10a8" opacity="0.18"/>
<circle cx="388.22" cy="300.95" r="1.7" fill="#2418e8" opacity="0.6"/>
<circle cx="311.92" cy="309.58" r="3.8" fill="#1c10a8" opacity="0.3"/>
<circle cx="311.92" cy="309.58" r="2.0" fill="#2a1cf0" opacity="1"/>
<circle cx="346.42" cy="309.58" r="3.8" fill="#1c10a8" opacity="0.3"/>
<circle cx="346.42" cy="309.58" r="2.0" fill="#2a1cf0" opacity="1"/>
<circle cx="370.04" cy="307.99" r="3.23" fill="#1c10a8" opacity="0.18"/>
<circle cx="370.04" cy="307.99" r="1.7" fill="#4a2aa8" opacity="0.6"/>
<circle cx="386.5" cy="315.95" r="3.23" fill="#1c10a8" opacity="0.3"/>
<circle cx="386.5" cy="315.95" r="1.7" fill="#2418e8" opacity="1"/>
<circle cx="323.47" cy="315.55" r="3.23" fill="#1c10a8" opacity="0.3"/>
<circle cx="323.47" cy="315.55" r="1.7" fill="#2418e8" opacity="1"/>
<circle cx="329.57" cy="315.28" r="3.61" fill="#1c10a8" opacity="0.3"/>
<circle cx="329.57" cy="315.28" r="1.9" fill="#2a1cf0" opacity="1"/>
<circle cx="351.73" cy="319.53" r="3.23" fill="#1c10a8" opacity="0.24"/>
<circle cx="351.73" cy="319.53" r="1.7" fill="#4a2aa8" opacity="0.8"/>
<circle cx="363.68" cy="321.79" r="4.37" fill="#1c10a8" opacity="0.3"/>
<circle cx="363.68" cy="321.79" r="2.3" fill="#2a1cff" opacity="1"/>
<circle cx="341.78" cy="321.52" r="3.23" fill="#1c10a8" opacity="0.17"/>
<circle cx="341.78" cy="321.52" r="1.7" fill="#2418e8" opacity="0.55"/>
<circle cx="346.16" cy="323.51" r="3.23" fill="#1c10a8" opacity="0.21"/>
<circle cx="346.16" cy="323.51" r="1.7" fill="#2418e8" opacity="0.7"/>
<circle cx="323.2" cy="322.18" r="3.23" fill="#1c10a8" opacity="0.15"/>
<circle cx="323.2" cy="322.18" r="1.7" fill="#2418e8" opacity="0.5"/>
<circle cx="328.91" cy="325.24" r="3.23" fill="#1c10a8" opacity="0.24"/>
<circle cx="328.91" cy="325.24" r="1.7" fill="#2418e8" opacity="0.8"/>
<circle cx="300.64" cy="324.84" r="3.23" fill="#1c10a8" opacity="0.15"/>
<circle cx="300.64" cy="324.84" r="1.7" fill="#2418e8" opacity="0.5"/>
<circle cx="380.93" cy="325.24" r="3.23" fill="#1c10a8" opacity="0.21"/>
<circle cx="380.93" cy="325.24" r="1.7" fill="#2418e8" opacity="0.7"/>
<circle cx="305.02" cy="329.48" r="3.23" fill="#1c10a8" opacity="0.14"/>
<circle cx="305.02" cy="329.48" r="1.7" fill="#4a2aa8" opacity="0.45"/>
<circle cx="337.4" cy="327.49" r="3.8" fill="#1c10a8" opacity="0.3"/>
<circle cx="337.4" cy="327.49" r="2.0" fill="#2a1cff" opacity="1"/>
<circle cx="370.97" cy="328.82" r="3.23" fill="#1c10a8" opacity="0.27"/>
<circle cx="370.97" cy="328.82" r="1.7" fill="#2418e8" opacity="0.9"/>
<circle cx="362.08" cy="331.87" r="3.23" fill="#1c10a8" opacity="0.24"/>
<circle cx="362.08" cy="331.87" r="1.7" fill="#2418e8" opacity="0.8"/>
<circle cx="345.76" cy="333.46" r="3.23" fill="#1c10a8" opacity="0.27"/>
<circle cx="345.76" cy="333.46" r="1.7" fill="#2418e8" opacity="0.9"/>
<circle cx="368.72" cy="334.13" r="3.23" fill="#1c10a8" opacity="0.27"/>
<circle cx="368.72" cy="334.13" r="1.7" fill="#2418e8" opacity="0.9"/>
<circle cx="381.99" cy="332.8" r="3.23" fill="#1c10a8" opacity="0.27"/>
<circle cx="381.99" cy="332.8" r="1.7" fill="#2418e8" opacity="0.9"/>
<circle cx="301.31" cy="339.83" r="3.23" fill="#1c10a8" opacity="0.17"/>
<circle cx="301.31" cy="339.83" r="1.7" fill="#2418e8" opacity="0.55"/>
<circle cx="352.0" cy="339.04" r="3.23" fill="#1c10a8" opacity="0.27"/>
<circle cx="352.0" cy="339.04" r="1.7" fill="#2418e8" opacity="0.9"/>
<circle cx="364.34" cy="343.42" r="3.23" fill="#1c10a8" opacity="0.24"/>
<circle cx="364.34" cy="343.42" r="1.7" fill="#2418e8" opacity="0.8"/>
<circle cx="315.9" cy="344.74" r="3.23" fill="#1c10a8" opacity="0.18"/>
<circle cx="315.9" cy="344.74" r="1.7" fill="#2418e8" opacity="0.6"/>
<circle cx="327.58" cy="343.81" r="3.23" fill="#1c10a8" opacity="0.27"/>
<circle cx="327.58" cy="343.81" r="1.7" fill="#2418e8" opacity="0.9"/>
<circle cx="334.48" cy="343.02" r="3.23" fill="#1c10a8" opacity="0.24"/>
<circle cx="334.48" cy="343.02" r="1.7" fill="#2418e8" opacity="0.8"/>
<circle cx="343.37" cy="343.42" r="3.23" fill="#1c10a8" opacity="0.24"/>
<circle cx="343.37" cy="343.42" r="1.7" fill="#2418e8" opacity="0.8"/>
<circle cx="315.9" cy="349.39" r="3.23" fill="#1c10a8" opacity="0.27"/>
<circle cx="315.9" cy="349.39" r="1.7" fill="#2418e8" opacity="0.9"/>
<circle cx="350.14" cy="349.39" r="3.23" fill="#1c10a8" opacity="0.27"/>
<circle cx="350.14" cy="349.39" r="1.7" fill="#2418e8" opacity="0.9"/>
<circle cx="330.77" cy="350.71" r="3.23" fill="#1c10a8" opacity="0.3"/>
<circle cx="330.77" cy="350.71" r="1.7" fill="#2418e8" opacity="1"/>
<circle cx="337.14" cy="352.04" r="3.23" fill="#1c10a8" opacity="0.24"/>
<circle cx="337.14" cy="352.04" r="1.7" fill="#4a2aa8" opacity="0.8"/>
<circle cx="343.11" cy="351.77" r="3.23" fill="#1c10a8" opacity="0.27"/>
<circle cx="343.11" cy="351.77" r="1.7" fill="#2418e8" opacity="0.9"/>
<circle cx="303.96" cy="352.31" r="3.23" fill="#1c10a8" opacity="0.15"/>
<circle cx="303.96" cy="352.31" r="1.7" fill="#4a2aa8" opacity="0.5"/>
<circle cx="361.95" cy="353.1" r="3.23" fill="#1c10a8" opacity="0.3"/>
<circle cx="361.95" cy="353.1" r="1.7" fill="#2418e8" opacity="1"/>
<circle cx="382.25" cy="355.36" r="3.23" fill="#1c10a8" opacity="0.18"/>
<circle cx="382.25" cy="355.36" r="1.7" fill="#2418e8" opacity="0.6"/>
<circle cx="333.82" cy="360.0" r="3.23" fill="#1c10a8" opacity="0.18"/>
<circle cx="333.82" cy="360.0" r="1.7" fill="#2418e8" opacity="0.6"/>
<circle cx="355.32" cy="359.74" r="3.23" fill="#1c10a8" opacity="0.27"/>
<circle cx="355.32" cy="359.74" r="1.7" fill="#2418e8" opacity="0.9"/>
<circle cx="372.3" cy="363.98" r="3.23" fill="#1c10a8" opacity="0.24"/>
<circle cx="372.3" cy="363.98" r="1.7" fill="#2418e8" opacity="0.8"/>
<circle cx="383.58" cy="363.98" r="3.23" fill="#1c10a8" opacity="0.27"/>
<circle cx="383.58" cy="363.98" r="1.7" fill="#2418e8" opacity="0.9"/>
<circle cx="364.34" cy="366.64" r="3.23" fill="#1c10a8" opacity="0.3"/>
<circle cx="364.34" cy="366.64" r="1.7" fill="#2418e8" opacity="1"/>
<circle cx="356.38" cy="367.96" r="3.23" fill="#1c10a8" opacity="0.27"/>
<circle cx="356.38" cy="367.96" r="1.7" fill="#2418e8" opacity="0.9"/>
<circle cx="324.53" cy="366.9" r="3.23" fill="#1c10a8" opacity="0.15"/>
<circle cx="324.53" cy="366.9" r="1.7" fill="#2418e8" opacity="0.5"/></g></g>
<rect x="398.1" y="293.3" width="92.5" height="76" fill="#000004"/>
<g clip-path="url(#ci2)"><g filter="url(#cb)"><circle cx="409.27" cy="296.97" r="3.23" fill="#1c10a8" opacity="0.14"/>
<circle cx="409.27" cy="296.97" r="1.7" fill="#2418e8" opacity="0.45"/>
<circle cx="420.15" cy="297.9" r="3.23" fill="#1c10a8" opacity="0.15"/>
<circle cx="420.15" cy="297.9" r="1.7" fill="#2418e8" opacity="0.5"/>
<circle cx="428.78" cy="305.33" r="3.8" fill="#1c10a8" opacity="0.3"/>
<circle cx="428.78" cy="305.33" r="2.0" fill="#2a1cf0" opacity="1"/>
<circle cx="413.65" cy="309.58" r="3.23" fill="#1c10a8" opacity="0.24"/>
<circle cx="413.65" cy="309.58" r="1.7" fill="#2418e8" opacity="0.8"/>
<circle cx="466.99" cy="309.58" r="3.23" fill="#1c10a8" opacity="0.17"/>
<circle cx="466.99" cy="309.58" r="1.7" fill="#4a2aa8" opacity="0.55"/>
<circle cx="432.49" cy="314.22" r="3.23" fill="#1c10a8" opacity="0.15"/>
<circle cx="432.49" cy="314.22" r="1.7" fill="#4a2aa8" opacity="0.5"/>
<circle cx="423.87" cy="316.88" r="3.23" fill="#1c10a8" opacity="0.3"/>
<circle cx="423.87" cy="316.88" r="1.7" fill="#2418e8" opacity="1"/>
<circle cx="423.87" cy="321.79" r="3.23" fill="#1c10a8" opacity="0.3"/>
<circle cx="423.87" cy="321.79" r="1.7" fill="#2418e8" opacity="1"/>
<circle cx="405.02" cy="322.18" r="3.23" fill="#1c10a8" opacity="0.21"/>
<circle cx="405.02" cy="322.18" r="1.7" fill="#2418e8" opacity="0.7"/>
<circle cx="434.88" cy="322.85" r="3.23" fill="#1c10a8" opacity="0.14"/>
<circle cx="434.88" cy="322.85" r="1.7" fill="#4a2aa8" opacity="0.45"/>
<circle cx="468.05" cy="328.42" r="3.23" fill="#1c10a8" opacity="0.18"/>
<circle cx="468.05" cy="328.42" r="1.7" fill="#4a2aa8" opacity="0.6"/>
<circle cx="486.9" cy="331.87" r="3.99" fill="#1c10a8" opacity="0.3"/>
<circle cx="486.9" cy="331.87" r="2.1" fill="#2a1cf0" opacity="1"/>
<circle cx="423.6" cy="333.73" r="3.23" fill="#1c10a8" opacity="0.27"/>
<circle cx="423.6" cy="333.73" r="1.7" fill="#2418e8" opacity="0.9"/>
<circle cx="441.78" cy="333.73" r="3.8" fill="#1c10a8" opacity="0.22"/>
<circle cx="441.78" cy="333.73" r="2.0" fill="#3020c8" opacity="0.75"/>
<circle cx="471.64" cy="338.37" r="4.37" fill="#1c10a8" opacity="0.3"/>
<circle cx="471.64" cy="338.37" r="2.3" fill="#2a1cff" opacity="1"/>
<circle cx="464.74" cy="342.09" r="3.23" fill="#1c10a8" opacity="0.27"/>
<circle cx="464.74" cy="342.09" r="1.7" fill="#2418e8" opacity="0.9"/>
<circle cx="401.97" cy="349.39" r="3.23" fill="#1c10a8" opacity="0.27"/>
<circle cx="401.97" cy="349.39" r="1.7" fill="#2418e8" opacity="0.9"/>
<circle cx="405.55" cy="355.62" r="3.23" fill="#1c10a8" opacity="0.17"/>
<circle cx="405.55" cy="355.62" r="1.7" fill="#2418e8" opacity="0.55"/>
<circle cx="451.73" cy="358.01" r="3.23" fill="#1c10a8" opacity="0.24"/>
<circle cx="451.73" cy="358.01" r="1.7" fill="#2418e8" opacity="0.8"/>
<circle cx="474.95" cy="359.34" r="3.23" fill="#1c10a8" opacity="0.15"/>
<circle cx="474.95" cy="359.34" r="1.7" fill="#4a2aa8" opacity="0.5"/>
<circle cx="479.6" cy="363.72" r="3.23" fill="#1c10a8" opacity="0.15"/>
<circle cx="479.6" cy="363.72" r="1.7" fill="#4a2aa8" opacity="0.5"/>
<circle cx="399.32" cy="365.31" r="3.23" fill="#1c10a8" opacity="0.27"/>
<circle cx="399.32" cy="365.31" r="1.7" fill="#2418e8" opacity="0.9"/>
<circle cx="424.53" cy="365.97" r="3.23" fill="#1c10a8" opacity="0.24"/>
<circle cx="424.53" cy="365.97" r="1.7" fill="#2418e8" opacity="0.8"/></g></g>
<rect x="298.3" y="372.3" width="92.4" height="77.3" fill="#000004"/>
<g clip-path="url(#ci3)"><g filter="url(#cb)"><circle cx="307.97" cy="374.76" r="3.23" fill="#1c10a8" opacity="0.26"/>
<circle cx="307.97" cy="374.76" r="1.7" fill="#2a1cff" opacity="0.85"/>
<circle cx="319.81" cy="376.8" r="3.23" fill="#1c10a8" opacity="0.27"/>
<circle cx="319.81" cy="376.8" r="1.7" fill="#2a1cff" opacity="0.9"/>
<circle cx="329.33" cy="376.12" r="3.8" fill="#1c10a8" opacity="0.3"/>
<circle cx="329.33" cy="376.12" r="2.0" fill="#2a1cf0" opacity="1"/>
<circle cx="357.22" cy="375.71" r="4.18" fill="#1c10a8" opacity="0.3"/>
<circle cx="357.22" cy="375.71" r="2.2" fill="#2a1cf0" opacity="1"/>
<circle cx="388.23" cy="379.79" r="3.23" fill="#1c10a8" opacity="0.24"/>
<circle cx="388.23" cy="379.79" r="1.7" fill="#2a1cff" opacity="0.8"/>
<circle cx="312.05" cy="388.77" r="3.99" fill="#1c10a8" opacity="0.3"/>
<circle cx="312.05" cy="388.77" r="2.1" fill="#2a1cf0" opacity="1"/>
<circle cx="346.06" cy="389.05" r="4.18" fill="#1c10a8" opacity="0.3"/>
<circle cx="346.06" cy="389.05" r="2.2" fill="#2a1cf0" opacity="1"/>
<circle cx="370.14" cy="387.41" r="3.23" fill="#1c10a8" opacity="0.18"/>
<circle cx="370.14" cy="387.41" r="1.7" fill="#2a1cff" opacity="0.6"/>
<circle cx="386.46" cy="395.85" r="3.23" fill="#1c10a8" opacity="0.27"/>
<circle cx="386.46" cy="395.85" r="1.7" fill="#2a1cff" opacity="0.9"/>
<circle cx="323.21" cy="395.17" r="3.23" fill="#1c10a8" opacity="0.3"/>
<circle cx="323.21" cy="395.17" r="1.7" fill="#2a1cff" opacity="1"/>
<circle cx="329.33" cy="394.89" r="3.8" fill="#1c10a8" opacity="0.3"/>
<circle cx="329.33" cy="394.89" r="2.0" fill="#2a1cf0" opacity="1"/>
<circle cx="351.5" cy="399.25" r="3.23" fill="#1c10a8" opacity="0.24"/>
<circle cx="351.5" cy="399.25" r="1.7" fill="#4a2aa8" opacity="0.8"/>
<circle cx="363.34" cy="401.56" r="4.75" fill="#1c10a8" opacity="0.3"/>
<circle cx="363.34" cy="401.56" r="2.5" fill="#2a1cff" opacity="1"/>
<circle cx="342.25" cy="400.61" r="3.23" fill="#1c10a8" opacity="0.17"/>
<circle cx="342.25" cy="400.61" r="1.7" fill="#4a2aa8" opacity="0.55"/>
<circle cx="346.06" cy="403.33" r="3.23" fill="#1c10a8" opacity="0.18"/>
<circle cx="346.06" cy="403.33" r="1.7" fill="#2a1cff" opacity="0.6"/>
<circle cx="323.21" cy="401.97" r="3.23" fill="#1c10a8" opacity="0.17"/>
<circle cx="323.21" cy="401.97" r="1.7" fill="#2a1cff" opacity="0.55"/>
<circle cx="328.65" cy="405.1" r="3.23" fill="#1c10a8" opacity="0.24"/>
<circle cx="328.65" cy="405.1" r="1.7" fill="#2a1cff" opacity="0.8"/>
<circle cx="299.81" cy="404.69" r="3.23" fill="#1c10a8" opacity="0.24"/>
<circle cx="299.81" cy="404.69" r="1.7" fill="#2a1cff" opacity="0.8"/>
<circle cx="380.61" cy="404.69" r="3.23" fill="#1c10a8" opacity="0.27"/>
<circle cx="380.61" cy="404.69" r="1.7" fill="#2a1cff" opacity="0.9"/>
<circle cx="304.84" cy="409.45" r="3.23" fill="#1c10a8" opacity="0.15"/>
<circle cx="304.84" cy="409.45" r="1.7" fill="#4a2aa8" opacity="0.5"/>
<circle cx="337.08" cy="407.0" r="3.99" fill="#1c10a8" opacity="0.3"/>
<circle cx="337.08" cy="407.0" r="2.1" fill="#2a1cff" opacity="1"/>
<circle cx="370.82" cy="408.09" r="3.23" fill="#1c10a8" opacity="0.3"/>
<circle cx="370.82" cy="408.09" r="1.7" fill="#2a1cff" opacity="1"/>
<circle cx="361.98" cy="411.22" r="3.23" fill="#1c10a8" opacity="0.21"/>
<circle cx="361.98" cy="411.22" r="1.7" fill="#4a2aa8" opacity="0.7"/>
<circle cx="346.06" cy="412.85" r="3.23" fill="#1c10a8" opacity="0.3"/>
<circle cx="346.06" cy="412.85" r="1.7" fill="#2a1cff" opacity="1"/>
<circle cx="368.37" cy="413.8" r="3.23" fill="#1c10a8" opacity="0.3"/>
<circle cx="368.37" cy="413.8" r="1.7" fill="#2a1cff" opacity="1"/>
<circle cx="381.7" cy="411.9" r="3.23" fill="#1c10a8" opacity="0.27"/>
<circle cx="381.7" cy="411.9" r="1.7" fill="#2a1cff" opacity="0.9"/>
<circle cx="301.17" cy="418.97" r="3.23" fill="#1c10a8" opacity="0.24"/>
<circle cx="301.17" cy="418.97" r="1.7" fill="#2a1cff" opacity="0.8"/>
<circle cx="351.77" cy="418.29" r="3.23" fill="#1c10a8" opacity="0.3"/>
<circle cx="351.77" cy="418.29" r="1.7" fill="#2a1cff" opacity="1"/>
<circle cx="364.02" cy="422.37" r="3.23" fill="#1c10a8" opacity="0.18"/>
<circle cx="364.02" cy="422.37" r="1.7" fill="#4a2aa8" opacity="0.6"/>
<circle cx="316.13" cy="424.41" r="3.23" fill="#1c10a8" opacity="0.27"/>
<circle cx="316.13" cy="424.41" r="1.7" fill="#2a1cff" opacity="0.9"/>
<circle cx="327.56" cy="423.73" r="3.8" fill="#1c10a8" opacity="0.3"/>
<circle cx="327.56" cy="423.73" r="2.0" fill="#2a1cf0" opacity="1"/>
<circle cx="334.77" cy="422.37" r="3.23" fill="#1c10a8" opacity="0.18"/>
<circle cx="334.77" cy="422.37" r="1.7" fill="#4a2aa8" opacity="0.6"/>
<circle cx="342.93" cy="422.78" r="3.23" fill="#1c10a8" opacity="0.24"/>
<circle cx="342.93" cy="422.78" r="1.7" fill="#2a1cff" opacity="0.8"/>
<circle cx="316.13" cy="428.9" r="3.23" fill="#1c10a8" opacity="0.27"/>
<circle cx="316.13" cy="428.9" r="1.7" fill="#2a1cff" opacity="0.9"/>
<circle cx="349.73" cy="429.18" r="3.23" fill="#1c10a8" opacity="0.3"/>
<circle cx="349.73" cy="429.18" r="1.7" fill="#2a1cff" opacity="1"/>
<circle cx="330.01" cy="430.54" r="3.23" fill="#1c10a8" opacity="0.3"/>
<circle cx="330.01" cy="430.54" r="1.7" fill="#2a1cff" opacity="1"/>
<circle cx="336.54" cy="431.49" r="3.23" fill="#1c10a8" opacity="0.27"/>
<circle cx="336.54" cy="431.49" r="1.7" fill="#4a2aa8" opacity="0.9"/>
<circle cx="342.93" cy="431.22" r="3.23" fill="#1c10a8" opacity="0.27"/>
<circle cx="342.93" cy="431.22" r="1.7" fill="#2a1cff" opacity="0.9"/>
<circle cx="303.89" cy="431.9" r="3.23" fill="#1c10a8" opacity="0.18"/>
<circle cx="303.89" cy="431.9" r="1.7" fill="#4a2aa8" opacity="0.6"/>
<circle cx="361.98" cy="432.85" r="3.23" fill="#1c10a8" opacity="0.3"/>
<circle cx="361.98" cy="432.85" r="1.7" fill="#2a1cff" opacity="1"/>
<circle cx="382.38" cy="435.03" r="3.23" fill="#1c10a8" opacity="0.27"/>
<circle cx="382.38" cy="435.03" r="1.7" fill="#2a1cff" opacity="0.9"/>
<circle cx="333.41" cy="440.06" r="3.23" fill="#1c10a8" opacity="0.27"/>
<circle cx="333.41" cy="440.06" r="1.7" fill="#2a1cff" opacity="0.9"/>
<circle cx="355.18" cy="439.38" r="3.23" fill="#1c10a8" opacity="0.3"/>
<circle cx="355.18" cy="439.38" r="1.7" fill="#2a1cff" opacity="1"/>
<circle cx="371.5" cy="444.14" r="3.23" fill="#1c10a8" opacity="0.3"/>
<circle cx="371.5" cy="444.14" r="1.7" fill="#2a1cff" opacity="1"/>
<circle cx="383.74" cy="444.14" r="3.23" fill="#1c10a8" opacity="0.24"/>
<circle cx="383.74" cy="444.14" r="1.7" fill="#2a1cff" opacity="0.8"/>
<circle cx="364.02" cy="446.86" r="3.23" fill="#1c10a8" opacity="0.3"/>
<circle cx="364.02" cy="446.86" r="1.7" fill="#2a1cff" opacity="1"/>
<circle cx="355.86" cy="447.81" r="3.23" fill="#1c10a8" opacity="0.27"/>
<circle cx="355.86" cy="447.81" r="1.7" fill="#2a1cff" opacity="0.9"/>
<circle cx="323.89" cy="446.86" r="3.23" fill="#1c10a8" opacity="0.18"/>
<circle cx="323.89" cy="446.86" r="1.7" fill="#2a1cff" opacity="0.6"/></g>
<circle cx="321.85" cy="406.73" r="0.9" fill="#a8c8a0" filter="url(#cb2)"/></g>
<rect x="398.1" y="372.3" width="92.6" height="77.3" fill="#000004"/>
<g clip-path="url(#ci4)"><g filter="url(#cb2)"><circle cx="409.33" cy="375.85" r="1.56" fill="#607080" opacity="0.27"/>
<circle cx="409.33" cy="375.85" r="1.14" fill="#8898a0" opacity="0.9"/>
<circle cx="420.49" cy="377.48" r="1.56" fill="#607080" opacity="0.18"/>
<circle cx="420.49" cy="377.48" r="1.14" fill="#8898a0" opacity="0.6"/>
<circle cx="428.38" cy="384.69" r="2.03" fill="#2450d8" opacity="0.5"/>
<circle cx="428.38" cy="384.69" r="1.27" fill="#4890f8" opacity="1"/>
<circle cx="428.38" cy="384.69" r="0.68" fill="#d8f0ff" opacity="0.8"/>
<circle cx="414.09" cy="388.77" r="2.08" fill="#4a2aa8" opacity="0.55"/>
<circle cx="467.01" cy="389.05" r="1.56" fill="#607080" opacity="0.27"/>
<circle cx="467.01" cy="389.05" r="1.14" fill="#c8d8e0" opacity="0.9"/>
<circle cx="432.46" cy="393.13" r="2.08" fill="#4a2aa8" opacity="0.5"/>
<circle cx="423.89" cy="396.53" r="2.16" fill="#2450d8" opacity="0.5"/>
<circle cx="423.89" cy="396.53" r="1.36" fill="#4890f8" opacity="1"/>
<circle cx="423.89" cy="396.53" r="0.72" fill="#d8f0ff" opacity="0.8"/>
<circle cx="423.89" cy="401.56" r="2.03" fill="#2450d8" opacity="0.5"/>
<circle cx="423.89" cy="401.56" r="1.27" fill="#58c8f0" opacity="1"/>
<circle cx="423.89" cy="401.56" r="0.68" fill="#d8f0ff" opacity="0.8"/>
<circle cx="404.84" cy="401.02" r="1.56" fill="#607080" opacity="0.24"/>
<circle cx="404.84" cy="401.02" r="1.14" fill="#8898a0" opacity="0.8"/>
<circle cx="435.18" cy="402.38" r="1.69" fill="#607080" opacity="0.28"/>
<circle cx="435.18" cy="402.38" r="1.23" fill="#c8d8e0" opacity="0.95"/>
<circle cx="467.69" cy="407.82" r="1.69" fill="#607080" opacity="0.27"/>
<circle cx="467.69" cy="407.82" r="1.23" fill="#c8d8e0" opacity="0.9"/>
<circle cx="486.74" cy="411.22" r="2.16" fill="#2450d8" opacity="0.5"/>
<circle cx="486.74" cy="411.22" r="1.36" fill="#4890f8" opacity="1"/>
<circle cx="486.74" cy="411.22" r="0.72" fill="#d8f0ff" opacity="0.8"/>
<circle cx="423.21" cy="413.53" r="1.76" fill="#2450d8" opacity="0.5"/>
<circle cx="423.21" cy="413.53" r="1.1" fill="#4890f8" opacity="1"/>
<circle cx="423.21" cy="413.53" r="0.59" fill="#d8f0ff" opacity="0.8"/>
<circle cx="442.25" cy="412.17" r="1.69" fill="#607080" opacity="0.3"/>
<circle cx="442.25" cy="412.17" r="1.23" fill="#c8d8e0" opacity="1"/>
<circle cx="440.21" cy="415.16" r="1.62" fill="#2450d8" opacity="0.5"/>
<circle cx="440.21" cy="415.16" r="1.02" fill="#a0c8f0" opacity="1"/>
<circle cx="440.21" cy="415.16" r="0.54" fill="#d8f0ff" opacity="0.8"/>
<circle cx="471.5" cy="417.88" r="2.29" fill="#2450d8" opacity="0.5"/>
<circle cx="471.5" cy="417.88" r="1.44" fill="#58c8f0" opacity="1"/>
<circle cx="471.5" cy="417.88" r="0.77" fill="#d8f0ff" opacity="0.8"/>
<circle cx="464.43" cy="421.69" r="2.03" fill="#2450d8" opacity="0.5"/>
<circle cx="464.43" cy="421.69" r="1.27" fill="#90d8f0" opacity="1"/>
<circle cx="464.43" cy="421.69" r="0.68" fill="#d8f0ff" opacity="0.8"/>
<circle cx="402.39" cy="429.18" r="2.03" fill="#2450d8" opacity="0.5"/>
<circle cx="402.39" cy="429.18" r="1.27" fill="#4890f8" opacity="1"/>
<circle cx="402.39" cy="429.18" r="0.68" fill="#d8f0ff" opacity="0.8"/>
<circle cx="405.79" cy="435.3" r="1.56" fill="#607080" opacity="0.27"/>
<circle cx="405.79" cy="435.3" r="1.14" fill="#c8d8e0" opacity="0.9"/>
<circle cx="451.77" cy="437.34" r="1.89" fill="#2450d8" opacity="0.5"/>
<circle cx="451.77" cy="437.34" r="1.19" fill="#a0e0f0" opacity="1"/>
<circle cx="451.77" cy="437.34" r="0.63" fill="#d8f0ff" opacity="0.8"/>
<circle cx="474.63" cy="438.97" r="1.56" fill="#607080" opacity="0.24"/>
<circle cx="474.63" cy="438.97" r="1.14" fill="#8898a0" opacity="0.8"/>
<circle cx="479.66" cy="443.87" r="1.56" fill="#607080" opacity="0.24"/>
<circle cx="479.66" cy="443.87" r="1.14" fill="#8898a0" opacity="0.8"/>
<circle cx="399.4" cy="445.09" r="1.89" fill="#2450d8" opacity="0.5"/>
<circle cx="399.4" cy="445.09" r="1.19" fill="#4890f8" opacity="1"/>
<circle cx="399.4" cy="445.09" r="0.63" fill="#d8f0ff" opacity="0.8"/>
<circle cx="424.84" cy="445.77" r="1.89" fill="#2450d8" opacity="0.5"/>
<circle cx="424.84" cy="445.77" r="1.19" fill="#a0c8f8" opacity="1"/>
<circle cx="424.84" cy="445.77" r="0.63" fill="#d8f0ff" opacity="0.8"/></g></g>
<g id="panel-d-chart" filter="url(#tb)" stroke="#000" stroke-width="0.12">
<line x1="314" y1="459.6" x2="314" y2="585.1" stroke="#000" stroke-width="1.9" />
<line x1="313" y1="584.4" x2="486" y2="584.4" stroke="#000" stroke-width="1.5" />
<line x1="310.2" y1="584.4" x2="313.7" y2="584.4" stroke="#000" stroke-width="1.2" />
<text transform="translate(309.2,587.5) scale(0.84,1)" font-size="9" text-anchor="end" stroke="#000" stroke-width="0.25">0</text>
<line x1="310.2" y1="559.52" x2="313.7" y2="559.52" stroke="#000" stroke-width="1.2" />
<text transform="translate(309.2,562.62) scale(0.84,1)" font-size="9" text-anchor="end" stroke="#000" stroke-width="0.25">20</text>
<line x1="310.2" y1="534.64" x2="313.7" y2="534.64" stroke="#000" stroke-width="1.2" />
<text transform="translate(309.2,537.74) scale(0.84,1)" font-size="9" text-anchor="end" stroke="#000" stroke-width="0.25">40</text>
<line x1="310.2" y1="509.76" x2="313.7" y2="509.76" stroke="#000" stroke-width="1.2" />
<text transform="translate(309.2,512.86) scale(0.84,1)" font-size="9" text-anchor="end" stroke="#000" stroke-width="0.25">60</text>
<line x1="310.2" y1="484.88" x2="313.7" y2="484.88" stroke="#000" stroke-width="1.2" />
<text transform="translate(309.2,487.98) scale(0.84,1)" font-size="9" text-anchor="end" stroke="#000" stroke-width="0.25">80</text>
<line x1="310.2" y1="460.0" x2="313.7" y2="460.0" stroke="#000" stroke-width="1.2" />
<text transform="translate(309.2,463.1) scale(0.84,1)" font-size="9" text-anchor="end" stroke="#000" stroke-width="0.25">100</text>
<rect x="321.0" y="580.85" width="28.2" height="3.55" fill="#fff" stroke="#000" stroke-width="1.6"/>
<line x1="335.05" y1="580.05" x2="335.05" y2="579.05" stroke="#000" stroke-width="1.3" />
<line x1="327.55" y1="579.05" x2="342.55" y2="579.05" stroke="#000" stroke-width="1.1" />
<text x="335.05" y="597" font-size="8.4" text-anchor="middle" >-</text>
<rect x="363.2" y="568.23" width="29.7" height="16.17" fill="#000"/>
<line x1="378.05" y1="568.23" x2="378.05" y2="566.11" stroke="#000" stroke-width="1.3" />
<line x1="370.55" y1="566.11" x2="385.55" y2="566.11" stroke="#000" stroke-width="1.1" />
<text x="378.25" y="563.81" font-size="10" text-anchor="middle" >*</text>
<text x="378.05" y="597" font-size="8.4" text-anchor="middle" >5</text>
<rect x="406.2" y="543.85" width="29.7" height="40.55" fill="#000"/>
<line x1="421.05" y1="543.85" x2="421.05" y2="541.48" stroke="#000" stroke-width="1.3" />
<line x1="413.55" y1="541.48" x2="428.55" y2="541.48" stroke="#000" stroke-width="1.1" />
<text x="421.25" y="539.18" font-size="10" text-anchor="middle" >*</text>
<text x="421.05" y="597" font-size="8.4" text-anchor="middle" >10</text>
<rect x="449.2" y="507.89" width="29.7" height="76.51" fill="#000"/>
<line x1="464.05" y1="507.89" x2="464.05" y2="505.28" stroke="#000" stroke-width="1.3" />
<line x1="456.55" y1="505.28" x2="471.55" y2="505.28" stroke="#000" stroke-width="1.1" />
<text x="464.25" y="502.98" font-size="10" text-anchor="middle" >*</text>
<text x="464.05" y="597" font-size="8.4" text-anchor="middle" >15</text>
<text x="262.4" y="597" font-size="8.4" text-anchor="start" >MMPP (<tspan font-weight="normal">μ</tspan>g/mL)</text>
<text transform="translate(290.3,522) rotate(-90)" font-size="10.4" text-anchor="middle" >apoptosis (%)</text>
</g>
<g id="panel-ef-text" filter="url(#tb)" stroke="#000" stroke-width="0.22">
<text x="524.5" y="283.8" font-size="22" text-anchor="start" >e</text>
<text x="616.8" y="251.2" font-size="12" text-anchor="end" >MMPP</text>
<text x="616.6" y="265.4" font-size="12" text-anchor="end" >(µg/mL)</text>
<text x="642.5" y="262.8" font-size="12" text-anchor="middle" >-</text>
<text x="695.5" y="262.8" font-size="12" text-anchor="middle" >5</text>
<text x="747.3" y="262.8" font-size="12" text-anchor="middle" >10</text>
<text x="796.5" y="262.8" font-size="12" text-anchor="middle" >15</text>
<text x="608.6" y="283.7" font-size="11.85" text-anchor="end" >caspase-3</text>
<text x="608.6" y="304.3" font-size="11.85" text-anchor="end" >Cleaved</text>
<text x="608.6" y="318.2" font-size="11.85" text-anchor="end" >caspase-3</text>
<text x="608.6" y="336" font-size="11.85" text-anchor="end" >caspase-8</text>
<text x="608.6" y="357.5" font-size="11.85" text-anchor="end" >Cleaved</text>
<text x="608.6" y="371.8" font-size="11.85" text-anchor="end" >caspase-8</text>
<text x="608.0" y="388.4" font-size="11.85" text-anchor="end" >Bax</text>
<text x="608.0" y="413.4" font-size="11.85" text-anchor="end" >Bcl-2</text>
<text x="608.0" y="437" font-size="11.85" text-anchor="end" >β-actin</text>
<text x="552.5" y="475.4" font-size="22" text-anchor="start" >f</text>
<text x="607.6" y="476.4" font-size="11.85" text-anchor="end" >p21</text>
<text x="607.6" y="502.1" font-size="11.85" text-anchor="end" >Cdk2</text>
<text x="607.6" y="529.6" font-size="11.85" text-anchor="end" >Cdk6</text>
<text x="551.8" y="560.5" font-size="11.85" text-anchor="start" >Cyclin D1</text>
<text x="607.6" y="589.1" font-size="11.85" text-anchor="end" >β-actin</text>
</g>
<g clip-path="url(#ce1)"><rect x="617.3" y="270" width="203.20000000000005" height="50.5" fill="url(#ge1)"/>
<rect x="618" y="270" width="60" height="51" fill="#000" opacity=".05" filter="url(#b4)"/>
<rect x="626.0" y="272" width="34" height="48" fill="#000" opacity="0.1" filter="url(#b3)"/>
<rect x="679.0" y="272" width="34" height="48" fill="#000" opacity="0.1" filter="url(#b3)"/>
<rect x="731.0" y="272" width="34" height="48" fill="#000" opacity="0.1" filter="url(#b3)"/>
<rect x="780.4" y="272" width="34" height="48" fill="#000" opacity="0.1" filter="url(#b3)"/>
<ellipse cx="643" cy="282" rx="20.5" ry="6.4" fill="#000" opacity="0.15" filter="url(#b3)"/>
<ellipse cx="643" cy="282" rx="14.75" ry="3.15" fill="#000" opacity="0.9" filter="url(#b15)"/>
<ellipse cx="643" cy="282" rx="10.75" ry="1.4" fill="#000" opacity="0.6" filter="url(#b1)"/>
<ellipse cx="696" cy="282" rx="22.5" ry="7.0" fill="#000" opacity="0.15" filter="url(#b3)"/>
<ellipse cx="696" cy="282" rx="16.75" ry="3.75" fill="#000" opacity="0.9" filter="url(#b15)"/>
<ellipse cx="696" cy="282" rx="12.75" ry="2.0" fill="#000" opacity="0.6" filter="url(#b1)"/>
<ellipse cx="748" cy="282" rx="24.0" ry="8.7" fill="#000" opacity="0.15" filter="url(#b3)"/>
<ellipse cx="748" cy="282" rx="18.25" ry="5.45" fill="#000" opacity="0.95" filter="url(#b15)"/>
<ellipse cx="748" cy="282" rx="14.25" ry="3.7" fill="#000" opacity="0.6" filter="url(#b1)"/>
<ellipse cx="797.4" cy="282" rx="23.5" ry="8.8" fill="#000" opacity="0.15" filter="url(#b3)"/>
<ellipse cx="797.4" cy="282" rx="17.75" ry="5.55" fill="#000" opacity="0.95" filter="url(#b15)"/>
<ellipse cx="797.4" cy="282" rx="13.75" ry="3.8" fill="#000" opacity="0.6" filter="url(#b1)"/>
<ellipse cx="643" cy="298.6" rx="12.25" ry="1.95" fill="#000" opacity="0.1" filter="url(#b15)"/>
<ellipse cx="696" cy="298.6" rx="12.25" ry="1.95" fill="#000" opacity="0.08" filter="url(#b15)"/>
<ellipse cx="748" cy="298.6" rx="12.25" ry="1.95" fill="#000" opacity="0.05" filter="url(#b15)"/>
<ellipse cx="797.4" cy="298.6" rx="12.25" ry="1.95" fill="#000" opacity="0.05" filter="url(#b15)"/>
<ellipse cx="644" cy="312.6" rx="13.25" ry="2.25" fill="#000" opacity="0.3" filter="url(#b15)"/>
<ellipse cx="697" cy="312.6" rx="13.25" ry="2.25" fill="#000" opacity="0.28" filter="url(#b15)"/>
<ellipse cx="749" cy="312.6" rx="14.75" ry="3.55" fill="#000" opacity="0.85" filter="url(#b15)"/>
<ellipse cx="798.4" cy="312.6" rx="15.75" ry="3.55" fill="#000" opacity="0.8" filter="url(#b15)"/>
<ellipse cx="749" cy="312.6" rx="10.25" ry="1.55" fill="#000" opacity="0.4" filter="url(#b1)"/>
<ellipse cx="798.4" cy="312.6" rx="10.75" ry="1.45" fill="#000" opacity="0.3" filter="url(#b1)"/>
</g>
<g clip-path="url(#ce2)"><rect x="617.3" y="324" width="203.20000000000005" height="46.3" fill="url(#ge2)"/>
<rect x="617.3" y="324" width="203.20000000000005" height="46.3" fill="#000" opacity="0.08" filter="url(#mottD)"/><rect x="617.3" y="324" width="203.20000000000005" height="46.3" fill="#fff" opacity="0.08" filter="url(#mottL)"/>
<rect x="627.0" y="326" width="34" height="44" fill="#000" opacity="0.08" filter="url(#b3)"/>
<rect x="680.0" y="326" width="34" height="44" fill="#000" opacity="0.08" filter="url(#b3)"/>
<rect x="732.0" y="326" width="34" height="44" fill="#000" opacity="0.08" filter="url(#b3)"/>
<rect x="781.4" y="326" width="34" height="44" fill="#000" opacity="0.08" filter="url(#b3)"/>
<ellipse cx="644" cy="329.6" rx="18.25" ry="2.15" fill="#000" opacity="0.97" filter="url(#b1)"/>
<ellipse cx="644" cy="329.6" rx="13.25" ry="0.85" fill="#000" opacity="0.7" filter="url(#b08)"/>
<ellipse cx="644" cy="337.6" rx="16.25" ry="1.75" fill="#000" opacity="0.16" filter="url(#b15)"/>
<ellipse cx="644" cy="343.5" rx="16.25" ry="1.75" fill="#000" opacity="0.13" filter="url(#b15)"/>
<ellipse cx="697" cy="329.6" rx="16.75" ry="1.95" fill="#000" opacity="0.92" filter="url(#b1)"/>
<ellipse cx="697" cy="329.6" rx="11.75" ry="0.65" fill="#000" opacity="0.7" filter="url(#b08)"/>
<ellipse cx="697" cy="337.6" rx="14.75" ry="1.75" fill="#000" opacity="0.16" filter="url(#b15)"/>
<ellipse cx="697" cy="343.5" rx="14.75" ry="1.75" fill="#000" opacity="0.13" filter="url(#b15)"/>
<ellipse cx="749" cy="329.6" rx="16.75" ry="1.75" fill="#000" opacity="0.88" filter="url(#b1)"/>
<ellipse cx="749" cy="329.6" rx="11.75" ry="0.45" fill="#000" opacity="0.7" filter="url(#b08)"/>
<ellipse cx="749" cy="337.6" rx="14.75" ry="1.75" fill="#000" opacity="0.16" filter="url(#b15)"/>
<ellipse cx="749" cy="343.5" rx="14.75" ry="1.75" fill="#000" opacity="0.13" filter="url(#b15)"/>
<ellipse cx="798.4" cy="329.6" rx="14.75" ry="1.55" fill="#000" opacity="0.66" filter="url(#b1)"/>
<ellipse cx="798.4" cy="329.6" rx="9.75" ry="0.25" fill="#000" opacity="0.7" filter="url(#b08)"/>
<ellipse cx="798.4" cy="337.6" rx="12.75" ry="1.75" fill="#000" opacity="0.16" filter="url(#b15)"/>
<ellipse cx="798.4" cy="343.5" rx="12.75" ry="1.75" fill="#000" opacity="0.13" filter="url(#b15)"/>
<ellipse cx="644" cy="352" rx="14.25" ry="1.65" fill="#000" opacity="0.3" filter="url(#b13)"/>
<ellipse cx="697" cy="352" rx="15.25" ry="2.25" fill="#000" opacity="0.8" filter="url(#b13)"/>
<ellipse cx="749" cy="352" rx="15.25" ry="2.15" fill="#000" opacity="0.7" filter="url(#b13)"/>
<ellipse cx="798.4" cy="352" rx="15.25" ry="2.75" fill="#000" opacity="0.95" filter="url(#b13)"/>
<ellipse cx="798.4" cy="352" rx="10.25" ry="1.25" fill="#000" opacity="0.5" filter="url(#b08)"/>
<ellipse cx="644" cy="365" rx="14.25" ry="1.25" fill="#000" opacity="0.22" filter="url(#b13)"/>
<ellipse cx="697" cy="365" rx="14.25" ry="1.85" fill="#000" opacity="0.75" filter="url(#b13)"/>
<ellipse cx="749" cy="365" rx="13.75" ry="1.65" fill="#000" opacity="0.6" filter="url(#b13)"/>
<ellipse cx="798.4" cy="365" rx="12.75" ry="2.05" fill="#000" opacity="0.9" filter="url(#b13)"/>
</g>
<g clip-path="url(#ce3)"><rect x="617.3" y="374" width="203.20000000000005" height="21" fill="url(#ge3)"/>
<rect x="617.3" y="374" width="203.20000000000005" height="21" fill="#000" opacity="0.08" filter="url(#mottD)"/><rect x="617.3" y="374" width="203.20000000000005" height="21" fill="#fff" opacity="0.08" filter="url(#mottL)"/>
<ellipse cx="644" cy="384.6" rx="22.0" ry="6.3" fill="#000" opacity="0.0352" filter="url(#b3)"/>
<ellipse cx="644" cy="384.6" rx="15.25" ry="1.55" fill="#000" opacity="0.16" filter="url(#b15)"/>
<ellipse cx="697" cy="384.6" rx="23.5" ry="7.3" fill="#000" opacity="0.1936" filter="url(#b3)"/>
<ellipse cx="697" cy="384.6" rx="16.75" ry="2.55" fill="#000" opacity="0.88" filter="url(#b15)"/>
<ellipse cx="749" cy="384.6" rx="26.0" ry="7.5" fill="#000" opacity="0.198" filter="url(#b3)"/>
<ellipse cx="749" cy="384.6" rx="19.25" ry="2.75" fill="#000" opacity="0.9" filter="url(#b15)"/>
<ellipse cx="798.4" cy="384.6" rx="27.0" ry="8.1" fill="#000" opacity="0.2134" filter="url(#b3)"/>
<ellipse cx="798.4" cy="384.6" rx="20.25" ry="3.35" fill="#000" opacity="0.97" filter="url(#b15)"/>
<ellipse cx="697" cy="384.6" rx="11.25" ry="1.25" fill="#000" opacity="0.5" filter="url(#b1)"/>
<ellipse cx="749" cy="384.6" rx="13.25" ry="1.45" fill="#000" opacity="0.55" filter="url(#b1)"/>
<ellipse cx="798.4" cy="384.6" rx="14.25" ry="2.25" fill="#000" opacity="0.7" filter="url(#b1)"/>
</g>
<g clip-path="url(#ce4)"><rect x="617.3" y="398.7" width="203.20000000000005" height="19.3" fill="url(#ge4)"/>
<ellipse cx="639" cy="408" rx="21.5" ry="6.5" fill="#000" opacity="0.1395" filter="url(#b3)"/>
<ellipse cx="639" cy="408" rx="15.75" ry="3.25" fill="#000" opacity="0.93" filter="url(#b15)"/>
<ellipse cx="691" cy="408" rx="21.5" ry="6.0" fill="#000" opacity="0.12299999999999998" filter="url(#b3)"/>
<ellipse cx="691" cy="408" rx="15.75" ry="2.75" fill="#000" opacity="0.82" filter="url(#b15)"/>
<ellipse cx="745.5" cy="408" rx="22.0" ry="5.7" fill="#000" opacity="0.09" filter="url(#b3)"/>
<ellipse cx="745.5" cy="408" rx="16.25" ry="2.45" fill="#000" opacity="0.6" filter="url(#b15)"/>
<ellipse cx="800" cy="408" rx="20.0" ry="5.4" fill="#000" opacity="0.054" filter="url(#b3)"/>
<ellipse cx="800" cy="408" rx="14.25" ry="2.15" fill="#000" opacity="0.36" filter="url(#b15)" transform="rotate(-4 800 408)"/>
<ellipse cx="639" cy="408" rx="10.25" ry="1.45" fill="#000" opacity="0.6" filter="url(#b1)"/>
<ellipse cx="691" cy="408" rx="9.25" ry="1.05" fill="#000" opacity="0.4" filter="url(#b1)"/>
<ellipse cx="808" cy="407" rx="4.5" ry="1.8" fill="#000" opacity="0.25" filter="url(#b1)"/>
</g>
<g clip-path="url(#ce5)"><rect x="617.3" y="422.5" width="203.20000000000005" height="20.1" fill="url(#ge5)"/>
<path d="M626.5 431.5 C636.74 427.1 661.76 427.1 672 431.5 C661.76 435.9 636.74 435.9 626.5 431.5Z" fill="#000" filter="url(#b08)"/>
<path d="M674.5 431.5 C684.85 427.1 710.15 427.1 720.5 431.5 C710.15 435.9 684.85 435.9 674.5 431.5Z" fill="#000" filter="url(#b08)"/>
<path d="M721.5 431.5 C731.06 427.1 754.44 427.1 764 431.5 C754.44 435.9 731.06 435.9 721.5 431.5Z" fill="#000" filter="url(#b08)"/>
<path d="M770 431.5 C779.9 427.1 804.1 427.1 814 431.5 C804.1 435.9 779.9 435.9 770 431.5Z" fill="#000" filter="url(#b08)"/>
</g>
<g clip-path="url(#cf1)"><rect x="617.3" y="459.3" width="203.20000000000005" height="22.5" fill="url(#gf1)"/>
<rect x="617.3" y="459.3" width="203.20000000000005" height="22.5" fill="#000" opacity="0.08" filter="url(#mottD)"/><rect x="617.3" y="459.3" width="203.20000000000005" height="22.5" fill="#fff" opacity="0.08" filter="url(#mottL)"/>
<ellipse cx="631" cy="470.8" rx="7.5" ry="1.8" fill="#000" opacity="0.34" filter="url(#b13)"/>
<ellipse cx="652" cy="470.6" rx="6.5" ry="1.9" fill="#000" opacity="0.38" filter="url(#b13)"/>
<ellipse cx="641" cy="470.8" rx="15.25" ry="1.15" fill="#000" opacity="0.2" filter="url(#b1)"/>
<ellipse cx="696" cy="470.6" rx="15.75" ry="1.95" fill="#000" opacity="0.5" filter="url(#b13)"/>
<ellipse cx="704" cy="470.4" rx="8.0" ry="1.8" fill="#000" opacity="0.22" filter="url(#b1)"/>
<ellipse cx="741.5" cy="470.6" rx="16.25" ry="2.45" fill="#000" opacity="0.88" filter="url(#b13)"/>
<ellipse cx="741.5" cy="470.6" rx="10.25" ry="1.05" fill="#000" opacity="0.5" filter="url(#b08)"/>
<ellipse cx="796.5" cy="470.2" rx="27.0" ry="7.0" fill="#000" opacity="0.18" filter="url(#b3)"/>
<ellipse cx="796.5" cy="470.2" rx="22.25" ry="3.75" fill="#000" opacity="0.95" filter="url(#b15)"/>
<ellipse cx="796.5" cy="470.2" rx="17.25" ry="1.75" fill="#000" opacity="0.6" filter="url(#b1)"/>
<ellipse cx="795" cy="480.8" rx="17.25" ry="0.95" fill="#000" opacity="0.12" filter="url(#b1)"/>
</g>
<g clip-path="url(#cf2)"><rect x="617.3" y="486.7" width="203.20000000000005" height="23.3" fill="url(#gf2)"/>
<rect x="617.3" y="486.7" width="203.20000000000005" height="23.3" fill="#000" opacity="0.17" filter="url(#mottD)"/><rect x="617.3" y="486.7" width="203.20000000000005" height="23.3" fill="#fff" opacity="0.15" filter="url(#mottL)"/>
<rect x="620.0" y="484" width="28" height="26" fill="#000" opacity="0.12" filter="url(#b3)"/>
<rect x="672.0" y="484" width="32" height="26" fill="#000" opacity="0.14" filter="url(#b3)"/>
<rect x="727.0" y="484" width="36" height="26" fill="#000" opacity="0.22" filter="url(#b3)"/>
<rect x="783.0" y="484" width="36" height="26" fill="#000" opacity="0.24" filter="url(#b3)"/>
<rect x="618" y="503" width="203" height="8" fill="#fff" opacity=".18" filter="url(#b2)"/>
<ellipse cx="634" cy="497.6" rx="14.25" ry="1.75" fill="#000" opacity="0.48" filter="url(#b13)"/>
<ellipse cx="687" cy="497.8" rx="15.25" ry="2.25" fill="#000" opacity="0.5" filter="url(#b15)"/>
<ellipse cx="678" cy="497.4" rx="6.0" ry="2.2" fill="#000" opacity="0.22" filter="url(#b1)"/>
<rect x="729.0" y="487" width="32" height="7" fill="#000" opacity="0.2" filter="url(#b2)"/>
<ellipse cx="745" cy="497.8" rx="17.25" ry="2.45" fill="#000" opacity="0.56" filter="url(#b15)"/>
<rect x="785.0" y="487" width="32" height="6" fill="#000" opacity="0.22" filter="url(#b2)"/>
<ellipse cx="801" cy="497.2" rx="17.25" ry="2.75" fill="#000" opacity="0.76" filter="url(#b15)"/>
<ellipse cx="791" cy="497" rx="7.0" ry="2.7" fill="#000" opacity="0.32" filter="url(#b1)"/>
<ellipse cx="812" cy="497.4" rx="6.0" ry="2.5" fill="#000" opacity="0.25" filter="url(#b1)"/>
</g>
<g clip-path="url(#cf3)"><rect x="617.3" y="515" width="203.20000000000005" height="23.2" fill="url(#gf3)"/>
<rect x="617.3" y="515" width="203.20000000000005" height="23.2" fill="#000" opacity="0.13" filter="url(#mottD)"/><rect x="617.3" y="515" width="203.20000000000005" height="23.2" fill="#fff" opacity="0.13" filter="url(#mottL)"/>
<ellipse cx="636" cy="526" rx="26.0" ry="7.5" fill="#000" opacity="0.18" filter="url(#b3)"/>
<ellipse cx="636" cy="526" rx="20.25" ry="4.25" fill="#000" opacity="1" filter="url(#b15)"/>
<ellipse cx="636" cy="526" rx="16.25" ry="2.25" fill="#000" opacity="0.7" filter="url(#b1)"/>
<ellipse cx="686" cy="525.6" rx="11.25" ry="2.85" fill="#000" opacity="0.95" filter="url(#b13)"/>
<ellipse cx="698" cy="526.4" rx="9.25" ry="1.55" fill="#000" opacity="0.62" filter="url(#b13)"/>
<ellipse cx="744.5" cy="526" rx="13.75" ry="1.65" fill="#000" opacity="0.82" filter="url(#b1)"/>
<ellipse cx="801" cy="526.6" rx="15.25" ry="1.95" fill="#000" opacity="0.48" filter="url(#b13)"/>
<ellipse cx="809" cy="527" rx="6.0" ry="2.0" fill="#000" opacity="0.22" filter="url(#b1)"/>
</g>
<g clip-path="url(#cf4)"><rect x="617.3" y="544.2" width="203.20000000000005" height="22.6" fill="url(#gf4)"/>
<rect x="617.3" y="544.2" width="203.20000000000005" height="22.6" fill="#000" opacity="0.17" filter="url(#mottD)"/><rect x="617.3" y="544.2" width="203.20000000000005" height="22.6" fill="#fff" opacity="0.15" filter="url(#mottL)"/>
<ellipse cx="636" cy="556" rx="17.25" ry="2.65" fill="#000" opacity="0.8" filter="url(#b13)"/>
<ellipse cx="645" cy="556.4" rx="8.0" ry="3.0" fill="#000" opacity="0.32" filter="url(#b1)"/>
<ellipse cx="692" cy="555.6" rx="14.25" ry="1.85" fill="#000" opacity="0.4" filter="url(#b13)"/>
<ellipse cx="744" cy="556" rx="12.25" ry="1.35" fill="#000" opacity="0.1" filter="url(#b13)"/>
<ellipse cx="636" cy="545.3" rx="13.25" ry="0.95" fill="#000" opacity="0.22" filter="url(#b1)"/>
</g>
<g clip-path="url(#cf5)"><rect x="617.3" y="573" width="203.20000000000005" height="22.6" fill="url(#gf5)"/>
<rect x="617.3" y="573" width="203.20000000000005" height="22.6" fill="#000" opacity="0.21" filter="url(#mottD)"/><rect x="617.3" y="573" width="203.20000000000005" height="22.6" fill="#fff" opacity="0.21" filter="url(#mottL)"/>
<ellipse cx="665" cy="582" rx="10" ry="8" fill="#fff" opacity=".5" filter="url(#b3)"/>
<ellipse cx="712" cy="578" rx="14" ry="5" fill="#fff" opacity=".45" filter="url(#b3)"/>
<ellipse cx="625" cy="576" rx="8" ry="4" fill="#fff" opacity=".4" filter="url(#b3)"/>
<ellipse cx="775" cy="590" rx="10" ry="5" fill="#fff" opacity=".3" filter="url(#b3)"/>
<rect x="725.0" y="573" width="40" height="23" fill="#000" opacity="0.16" filter="url(#b3)"/>
<rect x="780.0" y="573" width="42" height="23" fill="#000" opacity="0.2" filter="url(#b3)"/>
<ellipse cx="638" cy="584.6" rx="16.75" ry="2.65" fill="#000" opacity="0.82" filter="url(#b13)"/>
<ellipse cx="688" cy="584.2" rx="18.25" ry="2.65" fill="#000" opacity="0.84" filter="url(#b13)"/>
<ellipse cx="746" cy="583.6" rx="16.25" ry="2.95" fill="#000" opacity="0.93" filter="url(#b13)"/>
<ellipse cx="801" cy="583.4" rx="15.25" ry="2.95" fill="#000" opacity="0.93" filter="url(#b13)"/>
</g>
</svg>
</body></html>
